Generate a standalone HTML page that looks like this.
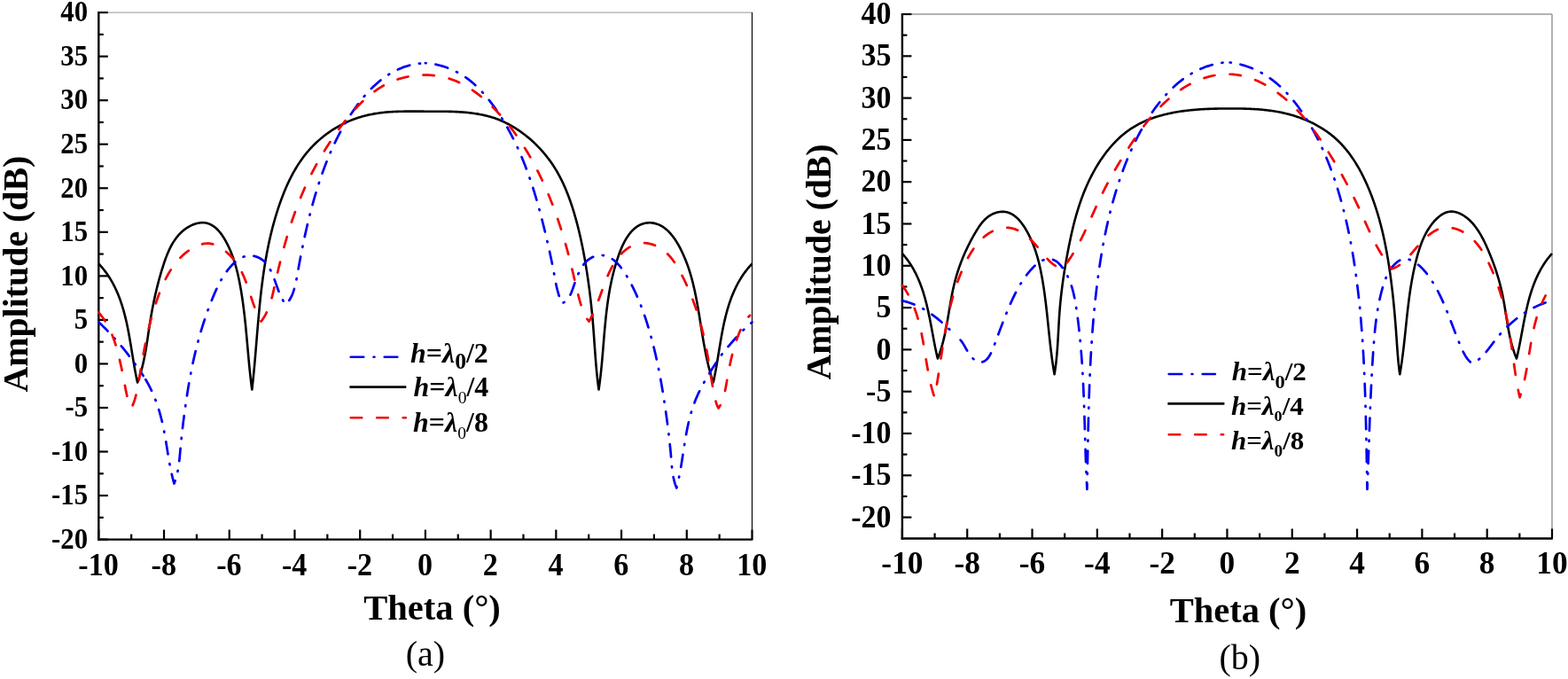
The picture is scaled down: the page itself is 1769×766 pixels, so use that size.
<!DOCTYPE html><html><head><meta charset="utf-8"><style>html,body{margin:0;padding:0;background:#fff;overflow:hidden}svg{display:block}</style></head><body>
<svg width="1769" height="766" viewBox="0 0 1769 766">
<rect width="1769" height="766" fill="#fff"/>
<line x1="111.3" y1="14.1" x2="848.5" y2="14.1" stroke="#aaa" stroke-width="1.3"/>
<line x1="848.5" y1="14.1" x2="848.5" y2="608.6" stroke="#111" stroke-width="1.3"/>
<line x1="111.3" y1="14.10" x2="121.8" y2="14.10" stroke="#000" stroke-width="2.2"/>
<text transform="translate(99.1,24.3) scale(0.940,1)" text-anchor="end" font-family="'Liberation Serif','Times New Roman',serif" font-weight="bold" font-size="32.8">40</text>
<line x1="111.3" y1="38.87" x2="116.8" y2="38.87" stroke="#000" stroke-width="2.2"/>
<line x1="111.3" y1="63.64" x2="121.8" y2="63.64" stroke="#000" stroke-width="2.2"/>
<text transform="translate(99.1,73.8) scale(0.940,1)" text-anchor="end" font-family="'Liberation Serif','Times New Roman',serif" font-weight="bold" font-size="32.8">35</text>
<line x1="111.3" y1="88.41" x2="116.8" y2="88.41" stroke="#000" stroke-width="2.2"/>
<line x1="111.3" y1="113.18" x2="121.8" y2="113.18" stroke="#000" stroke-width="2.2"/>
<text transform="translate(99.1,123.4) scale(0.940,1)" text-anchor="end" font-family="'Liberation Serif','Times New Roman',serif" font-weight="bold" font-size="32.8">30</text>
<line x1="111.3" y1="137.95" x2="116.8" y2="137.95" stroke="#000" stroke-width="2.2"/>
<line x1="111.3" y1="162.72" x2="121.8" y2="162.72" stroke="#000" stroke-width="2.2"/>
<text transform="translate(99.1,172.9) scale(0.940,1)" text-anchor="end" font-family="'Liberation Serif','Times New Roman',serif" font-weight="bold" font-size="32.8">25</text>
<line x1="111.3" y1="187.50" x2="116.8" y2="187.50" stroke="#000" stroke-width="2.2"/>
<line x1="111.3" y1="212.27" x2="121.8" y2="212.27" stroke="#000" stroke-width="2.2"/>
<text transform="translate(99.1,222.5) scale(0.940,1)" text-anchor="end" font-family="'Liberation Serif','Times New Roman',serif" font-weight="bold" font-size="32.8">20</text>
<line x1="111.3" y1="237.04" x2="116.8" y2="237.04" stroke="#000" stroke-width="2.2"/>
<line x1="111.3" y1="261.81" x2="121.8" y2="261.81" stroke="#000" stroke-width="2.2"/>
<text transform="translate(99.1,272.0) scale(0.940,1)" text-anchor="end" font-family="'Liberation Serif','Times New Roman',serif" font-weight="bold" font-size="32.8">15</text>
<line x1="111.3" y1="286.58" x2="116.8" y2="286.58" stroke="#000" stroke-width="2.2"/>
<line x1="111.3" y1="311.35" x2="121.8" y2="311.35" stroke="#000" stroke-width="2.2"/>
<text transform="translate(99.1,321.6) scale(0.940,1)" text-anchor="end" font-family="'Liberation Serif','Times New Roman',serif" font-weight="bold" font-size="32.8">10</text>
<line x1="111.3" y1="336.12" x2="116.8" y2="336.12" stroke="#000" stroke-width="2.2"/>
<line x1="111.3" y1="360.89" x2="121.8" y2="360.89" stroke="#000" stroke-width="2.2"/>
<text transform="translate(99.1,371.1) scale(0.940,1)" text-anchor="end" font-family="'Liberation Serif','Times New Roman',serif" font-weight="bold" font-size="32.8">5</text>
<line x1="111.3" y1="385.66" x2="116.8" y2="385.66" stroke="#000" stroke-width="2.2"/>
<line x1="111.3" y1="410.43" x2="121.8" y2="410.43" stroke="#000" stroke-width="2.2"/>
<text transform="translate(99.1,420.6) scale(0.940,1)" text-anchor="end" font-family="'Liberation Serif','Times New Roman',serif" font-weight="bold" font-size="32.8">0</text>
<line x1="111.3" y1="435.20" x2="116.8" y2="435.20" stroke="#000" stroke-width="2.2"/>
<line x1="111.3" y1="459.98" x2="121.8" y2="459.98" stroke="#000" stroke-width="2.2"/>
<text transform="translate(99.1,470.2) scale(0.940,1)" text-anchor="end" font-family="'Liberation Serif','Times New Roman',serif" font-weight="bold" font-size="32.8">-5</text>
<line x1="111.3" y1="484.75" x2="116.8" y2="484.75" stroke="#000" stroke-width="2.2"/>
<line x1="111.3" y1="509.52" x2="121.8" y2="509.52" stroke="#000" stroke-width="2.2"/>
<text transform="translate(99.1,519.7) scale(0.940,1)" text-anchor="end" font-family="'Liberation Serif','Times New Roman',serif" font-weight="bold" font-size="32.8">-10</text>
<line x1="111.3" y1="534.29" x2="116.8" y2="534.29" stroke="#000" stroke-width="2.2"/>
<line x1="111.3" y1="559.06" x2="121.8" y2="559.06" stroke="#000" stroke-width="2.2"/>
<text transform="translate(99.1,569.3) scale(0.940,1)" text-anchor="end" font-family="'Liberation Serif','Times New Roman',serif" font-weight="bold" font-size="32.8">-15</text>
<line x1="111.3" y1="583.83" x2="116.8" y2="583.83" stroke="#000" stroke-width="2.2"/>
<line x1="111.3" y1="608.60" x2="121.8" y2="608.60" stroke="#000" stroke-width="2.2"/>
<text transform="translate(99.1,618.8) scale(0.940,1)" text-anchor="end" font-family="'Liberation Serif','Times New Roman',serif" font-weight="bold" font-size="32.8">-20</text>
<line x1="111.30" y1="608.6" x2="111.30" y2="597.6" stroke="#000" stroke-width="2.2"/>
<text transform="translate(111.00,648.9) scale(0.960,1)" text-anchor="middle" font-family="'Liberation Serif','Times New Roman',serif" font-weight="bold" font-size="35.5">-10</text>
<line x1="148.16" y1="608.6" x2="148.16" y2="602.6" stroke="#000" stroke-width="2.2"/>
<line x1="185.02" y1="608.6" x2="185.02" y2="597.6" stroke="#000" stroke-width="2.2"/>
<text transform="translate(184.72,648.9) scale(0.960,1)" text-anchor="middle" font-family="'Liberation Serif','Times New Roman',serif" font-weight="bold" font-size="35.5">-8</text>
<line x1="221.88" y1="608.6" x2="221.88" y2="602.6" stroke="#000" stroke-width="2.2"/>
<line x1="258.74" y1="608.6" x2="258.74" y2="597.6" stroke="#000" stroke-width="2.2"/>
<text transform="translate(258.44,648.9) scale(0.960,1)" text-anchor="middle" font-family="'Liberation Serif','Times New Roman',serif" font-weight="bold" font-size="35.5">-6</text>
<line x1="295.60" y1="608.6" x2="295.60" y2="602.6" stroke="#000" stroke-width="2.2"/>
<line x1="332.46" y1="608.6" x2="332.46" y2="597.6" stroke="#000" stroke-width="2.2"/>
<text transform="translate(332.16,648.9) scale(0.960,1)" text-anchor="middle" font-family="'Liberation Serif','Times New Roman',serif" font-weight="bold" font-size="35.5">-4</text>
<line x1="369.32" y1="608.6" x2="369.32" y2="602.6" stroke="#000" stroke-width="2.2"/>
<line x1="406.18" y1="608.6" x2="406.18" y2="597.6" stroke="#000" stroke-width="2.2"/>
<text transform="translate(405.88,648.9) scale(0.960,1)" text-anchor="middle" font-family="'Liberation Serif','Times New Roman',serif" font-weight="bold" font-size="35.5">-2</text>
<line x1="443.04" y1="608.6" x2="443.04" y2="602.6" stroke="#000" stroke-width="2.2"/>
<line x1="479.90" y1="608.6" x2="479.90" y2="597.6" stroke="#000" stroke-width="2.2"/>
<text transform="translate(479.60,648.9) scale(0.960,1)" text-anchor="middle" font-family="'Liberation Serif','Times New Roman',serif" font-weight="bold" font-size="35.5">0</text>
<line x1="516.76" y1="608.6" x2="516.76" y2="602.6" stroke="#000" stroke-width="2.2"/>
<line x1="553.62" y1="608.6" x2="553.62" y2="597.6" stroke="#000" stroke-width="2.2"/>
<text transform="translate(553.32,648.9) scale(0.960,1)" text-anchor="middle" font-family="'Liberation Serif','Times New Roman',serif" font-weight="bold" font-size="35.5">2</text>
<line x1="590.48" y1="608.6" x2="590.48" y2="602.6" stroke="#000" stroke-width="2.2"/>
<line x1="627.34" y1="608.6" x2="627.34" y2="597.6" stroke="#000" stroke-width="2.2"/>
<text transform="translate(627.04,648.9) scale(0.960,1)" text-anchor="middle" font-family="'Liberation Serif','Times New Roman',serif" font-weight="bold" font-size="35.5">4</text>
<line x1="664.20" y1="608.6" x2="664.20" y2="602.6" stroke="#000" stroke-width="2.2"/>
<line x1="701.06" y1="608.6" x2="701.06" y2="597.6" stroke="#000" stroke-width="2.2"/>
<text transform="translate(700.76,648.9) scale(0.960,1)" text-anchor="middle" font-family="'Liberation Serif','Times New Roman',serif" font-weight="bold" font-size="35.5">6</text>
<line x1="737.92" y1="608.6" x2="737.92" y2="602.6" stroke="#000" stroke-width="2.2"/>
<line x1="774.78" y1="608.6" x2="774.78" y2="597.6" stroke="#000" stroke-width="2.2"/>
<text transform="translate(774.48,648.9) scale(0.960,1)" text-anchor="middle" font-family="'Liberation Serif','Times New Roman',serif" font-weight="bold" font-size="35.5">8</text>
<line x1="811.64" y1="608.6" x2="811.64" y2="602.6" stroke="#000" stroke-width="2.2"/>
<line x1="848.50" y1="608.6" x2="848.50" y2="597.6" stroke="#000" stroke-width="2.2"/>
<text transform="translate(848.20,648.9) scale(0.960,1)" text-anchor="middle" font-family="'Liberation Serif','Times New Roman',serif" font-weight="bold" font-size="35.5">10</text>
<line x1="111.3" y1="13.1" x2="111.3" y2="609.8" stroke="#000" stroke-width="2.4"/>
<line x1="110.1" y1="608.6" x2="849.3" y2="608.6" stroke="#000" stroke-width="2.4"/>
<line x1="1017.9" y1="16.0" x2="1751.0" y2="16.0" stroke="#999" stroke-width="1.3"/>
<line x1="1751.0" y1="16.0" x2="1751.0" y2="607.5" stroke="#999" stroke-width="1.5"/>
<line x1="1017.9" y1="16.00" x2="1028.4" y2="16.00" stroke="#000" stroke-width="2.2"/>
<text transform="translate(1005.4,27.1) scale(0.970,1)" text-anchor="end" font-family="'Liberation Serif','Times New Roman',serif" font-weight="bold" font-size="35.0">40</text>
<line x1="1017.9" y1="39.65" x2="1023.4" y2="39.65" stroke="#000" stroke-width="2.2"/>
<line x1="1017.9" y1="63.30" x2="1028.4" y2="63.30" stroke="#000" stroke-width="2.2"/>
<text transform="translate(1005.4,74.4) scale(0.970,1)" text-anchor="end" font-family="'Liberation Serif','Times New Roman',serif" font-weight="bold" font-size="35.0">35</text>
<line x1="1017.9" y1="86.95" x2="1023.4" y2="86.95" stroke="#000" stroke-width="2.2"/>
<line x1="1017.9" y1="110.60" x2="1028.4" y2="110.60" stroke="#000" stroke-width="2.2"/>
<text transform="translate(1005.4,121.7) scale(0.970,1)" text-anchor="end" font-family="'Liberation Serif','Times New Roman',serif" font-weight="bold" font-size="35.0">30</text>
<line x1="1017.9" y1="134.25" x2="1023.4" y2="134.25" stroke="#000" stroke-width="2.2"/>
<line x1="1017.9" y1="157.90" x2="1028.4" y2="157.90" stroke="#000" stroke-width="2.2"/>
<text transform="translate(1005.4,169.0) scale(0.970,1)" text-anchor="end" font-family="'Liberation Serif','Times New Roman',serif" font-weight="bold" font-size="35.0">25</text>
<line x1="1017.9" y1="181.55" x2="1023.4" y2="181.55" stroke="#000" stroke-width="2.2"/>
<line x1="1017.9" y1="205.20" x2="1028.4" y2="205.20" stroke="#000" stroke-width="2.2"/>
<text transform="translate(1005.4,216.3) scale(0.970,1)" text-anchor="end" font-family="'Liberation Serif','Times New Roman',serif" font-weight="bold" font-size="35.0">20</text>
<line x1="1017.9" y1="228.85" x2="1023.4" y2="228.85" stroke="#000" stroke-width="2.2"/>
<line x1="1017.9" y1="252.50" x2="1028.4" y2="252.50" stroke="#000" stroke-width="2.2"/>
<text transform="translate(1005.4,263.6) scale(0.970,1)" text-anchor="end" font-family="'Liberation Serif','Times New Roman',serif" font-weight="bold" font-size="35.0">15</text>
<line x1="1017.9" y1="276.15" x2="1023.4" y2="276.15" stroke="#000" stroke-width="2.2"/>
<line x1="1017.9" y1="299.80" x2="1028.4" y2="299.80" stroke="#000" stroke-width="2.2"/>
<text transform="translate(1005.4,310.9) scale(0.970,1)" text-anchor="end" font-family="'Liberation Serif','Times New Roman',serif" font-weight="bold" font-size="35.0">10</text>
<line x1="1017.9" y1="323.45" x2="1023.4" y2="323.45" stroke="#000" stroke-width="2.2"/>
<line x1="1017.9" y1="347.10" x2="1028.4" y2="347.10" stroke="#000" stroke-width="2.2"/>
<text transform="translate(1005.4,358.2) scale(0.970,1)" text-anchor="end" font-family="'Liberation Serif','Times New Roman',serif" font-weight="bold" font-size="35.0">5</text>
<line x1="1017.9" y1="370.75" x2="1023.4" y2="370.75" stroke="#000" stroke-width="2.2"/>
<line x1="1017.9" y1="394.40" x2="1028.4" y2="394.40" stroke="#000" stroke-width="2.2"/>
<text transform="translate(1005.4,405.5) scale(0.970,1)" text-anchor="end" font-family="'Liberation Serif','Times New Roman',serif" font-weight="bold" font-size="35.0">0</text>
<line x1="1017.9" y1="418.05" x2="1023.4" y2="418.05" stroke="#000" stroke-width="2.2"/>
<line x1="1017.9" y1="441.70" x2="1028.4" y2="441.70" stroke="#000" stroke-width="2.2"/>
<text transform="translate(1005.4,452.8) scale(0.970,1)" text-anchor="end" font-family="'Liberation Serif','Times New Roman',serif" font-weight="bold" font-size="35.0">-5</text>
<line x1="1017.9" y1="465.35" x2="1023.4" y2="465.35" stroke="#000" stroke-width="2.2"/>
<line x1="1017.9" y1="489.00" x2="1028.4" y2="489.00" stroke="#000" stroke-width="2.2"/>
<text transform="translate(1005.4,500.1) scale(0.970,1)" text-anchor="end" font-family="'Liberation Serif','Times New Roman',serif" font-weight="bold" font-size="35.0">-10</text>
<line x1="1017.9" y1="512.65" x2="1023.4" y2="512.65" stroke="#000" stroke-width="2.2"/>
<line x1="1017.9" y1="536.30" x2="1028.4" y2="536.30" stroke="#000" stroke-width="2.2"/>
<text transform="translate(1005.4,547.4) scale(0.970,1)" text-anchor="end" font-family="'Liberation Serif','Times New Roman',serif" font-weight="bold" font-size="35.0">-15</text>
<line x1="1017.9" y1="559.95" x2="1023.4" y2="559.95" stroke="#000" stroke-width="2.2"/>
<line x1="1017.9" y1="583.60" x2="1028.4" y2="583.60" stroke="#000" stroke-width="2.2"/>
<text transform="translate(1005.4,594.7) scale(0.970,1)" text-anchor="end" font-family="'Liberation Serif','Times New Roman',serif" font-weight="bold" font-size="35.0">-20</text>
<line x1="1017.90" y1="607.5" x2="1017.90" y2="596.5" stroke="#000" stroke-width="2.2"/>
<text transform="translate(1017.90,647.4) scale(0.960,1)" text-anchor="middle" font-family="'Liberation Serif','Times New Roman',serif" font-weight="bold" font-size="36.8">-10</text>
<line x1="1054.56" y1="607.5" x2="1054.56" y2="601.5" stroke="#000" stroke-width="2.2"/>
<line x1="1091.21" y1="607.5" x2="1091.21" y2="596.5" stroke="#000" stroke-width="2.2"/>
<text transform="translate(1091.21,647.4) scale(0.960,1)" text-anchor="middle" font-family="'Liberation Serif','Times New Roman',serif" font-weight="bold" font-size="36.8">-8</text>
<line x1="1127.87" y1="607.5" x2="1127.87" y2="601.5" stroke="#000" stroke-width="2.2"/>
<line x1="1164.52" y1="607.5" x2="1164.52" y2="596.5" stroke="#000" stroke-width="2.2"/>
<text transform="translate(1164.52,647.4) scale(0.960,1)" text-anchor="middle" font-family="'Liberation Serif','Times New Roman',serif" font-weight="bold" font-size="36.8">-6</text>
<line x1="1201.17" y1="607.5" x2="1201.17" y2="601.5" stroke="#000" stroke-width="2.2"/>
<line x1="1237.83" y1="607.5" x2="1237.83" y2="596.5" stroke="#000" stroke-width="2.2"/>
<text transform="translate(1237.83,647.4) scale(0.960,1)" text-anchor="middle" font-family="'Liberation Serif','Times New Roman',serif" font-weight="bold" font-size="36.8">-4</text>
<line x1="1274.48" y1="607.5" x2="1274.48" y2="601.5" stroke="#000" stroke-width="2.2"/>
<line x1="1311.14" y1="607.5" x2="1311.14" y2="596.5" stroke="#000" stroke-width="2.2"/>
<text transform="translate(1311.14,647.4) scale(0.960,1)" text-anchor="middle" font-family="'Liberation Serif','Times New Roman',serif" font-weight="bold" font-size="36.8">-2</text>
<line x1="1347.80" y1="607.5" x2="1347.80" y2="601.5" stroke="#000" stroke-width="2.2"/>
<line x1="1384.45" y1="607.5" x2="1384.45" y2="596.5" stroke="#000" stroke-width="2.2"/>
<text transform="translate(1384.45,647.4) scale(0.960,1)" text-anchor="middle" font-family="'Liberation Serif','Times New Roman',serif" font-weight="bold" font-size="36.8">0</text>
<line x1="1421.11" y1="607.5" x2="1421.11" y2="601.5" stroke="#000" stroke-width="2.2"/>
<line x1="1457.76" y1="607.5" x2="1457.76" y2="596.5" stroke="#000" stroke-width="2.2"/>
<text transform="translate(1457.76,647.4) scale(0.960,1)" text-anchor="middle" font-family="'Liberation Serif','Times New Roman',serif" font-weight="bold" font-size="36.8">2</text>
<line x1="1494.41" y1="607.5" x2="1494.41" y2="601.5" stroke="#000" stroke-width="2.2"/>
<line x1="1531.07" y1="607.5" x2="1531.07" y2="596.5" stroke="#000" stroke-width="2.2"/>
<text transform="translate(1531.07,647.4) scale(0.960,1)" text-anchor="middle" font-family="'Liberation Serif','Times New Roman',serif" font-weight="bold" font-size="36.8">4</text>
<line x1="1567.72" y1="607.5" x2="1567.72" y2="601.5" stroke="#000" stroke-width="2.2"/>
<line x1="1604.38" y1="607.5" x2="1604.38" y2="596.5" stroke="#000" stroke-width="2.2"/>
<text transform="translate(1604.38,647.4) scale(0.960,1)" text-anchor="middle" font-family="'Liberation Serif','Times New Roman',serif" font-weight="bold" font-size="36.8">6</text>
<line x1="1641.03" y1="607.5" x2="1641.03" y2="601.5" stroke="#000" stroke-width="2.2"/>
<line x1="1677.69" y1="607.5" x2="1677.69" y2="596.5" stroke="#000" stroke-width="2.2"/>
<text transform="translate(1677.69,647.4) scale(0.960,1)" text-anchor="middle" font-family="'Liberation Serif','Times New Roman',serif" font-weight="bold" font-size="36.8">8</text>
<line x1="1714.34" y1="607.5" x2="1714.34" y2="601.5" stroke="#000" stroke-width="2.2"/>
<line x1="1751.00" y1="607.5" x2="1751.00" y2="596.5" stroke="#000" stroke-width="2.2"/>
<text transform="translate(1751.00,647.4) scale(0.960,1)" text-anchor="middle" font-family="'Liberation Serif','Times New Roman',serif" font-weight="bold" font-size="36.8">10</text>
<line x1="1017.9" y1="15.0" x2="1017.9" y2="608.7" stroke="#000" stroke-width="2.4"/>
<line x1="1016.7" y1="607.5" x2="1751.8" y2="607.5" stroke="#000" stroke-width="2.4"/>
<text transform="translate(31.3,442.6) rotate(-90)" font-family="'Liberation Serif','Times New Roman',serif" font-weight="bold" font-size="40.5" textLength="267" lengthAdjust="spacingAndGlyphs">Amplitude (dB)</text>
<text transform="translate(937,428.4) rotate(-90)" font-family="'Liberation Serif','Times New Roman',serif" font-weight="bold" font-size="40.5" textLength="266" lengthAdjust="spacingAndGlyphs">Amplitude (dB)</text>
<text x="410.3" y="699.2" font-family="'Liberation Serif','Times New Roman',serif" font-weight="bold" font-size="40.5">Theta (°)</text>
<text x="1319.7" y="701.5" font-family="'Liberation Serif','Times New Roman',serif" font-weight="bold" font-size="40.5">Theta (°)</text>
<text x="480" y="750.5" text-anchor="middle" font-family="'Liberation Serif','Times New Roman',serif" font-size="40">(a)</text>
<text x="1398.8" y="755" text-anchor="middle" font-family="'Liberation Serif','Times New Roman',serif" font-size="40">(b)</text>
<path d="M111.30,297.50 L112.36,298.63 L113.40,299.77 L114.42,300.93 L115.41,302.09 L116.38,303.27 L117.34,304.45 L118.27,305.65 L119.18,306.86 L120.07,308.08 L120.94,309.30 L121.79,310.54 L122.62,311.79 L123.43,313.04 L124.22,314.31 L125.00,315.58 L125.75,316.87 L126.49,318.16 L127.21,319.46 L127.92,320.77 L128.61,322.09 L129.28,323.41 L129.93,324.75 L130.57,326.09 L131.19,327.44 L131.80,328.79 L132.39,330.15 L132.97,331.52 L133.54,332.90 L134.09,334.28 L134.62,335.67 L135.14,337.07 L135.65,338.47 L136.15,339.88 L136.63,341.30 L137.11,342.72 L137.57,344.14 L138.02,345.57 L138.45,347.01 L138.88,348.45 L139.30,349.89 L139.70,351.34 L140.10,352.80 L140.48,354.25 L140.86,355.72 L141.23,357.18 L141.59,358.65 L141.94,360.13 L142.28,361.60 L142.62,363.08 L142.95,364.56 L143.27,366.05 L143.58,367.54 L143.89,369.03 L144.19,370.52 L144.48,372.02 L144.77,373.51 L145.06,375.01 L145.34,376.51 L145.61,378.01 L145.88,379.51 L146.15,381.02 L146.41,382.52 L146.67,384.03 L146.93,385.53 L147.18,387.04 L147.44,388.55 L147.69,390.05 L147.93,391.56 L148.18,393.06 L148.43,394.57 L148.67,396.07 L148.91,397.58 L149.16,399.08 L149.40,400.58 L149.64,402.08 L149.89,403.58 L150.14,405.07 L150.38,406.57 L150.63,408.06 L150.88,409.55 L151.14,411.04 L151.39,412.52 L151.65,414.00 L151.91,415.48 L152.18,416.96 L152.45,418.43 L152.72,419.90 L153.00,421.36 L153.28,422.82 L153.57,424.28 L153.86,425.73 L154.16,427.18 L154.47,428.63 L154.78,430.07 L155.10,431.50 L155.63,430.04 L156.15,428.58 L156.65,427.13 L157.14,425.67 L157.61,424.21 L158.06,422.75 L158.50,421.29 L158.93,419.83 L159.34,418.37 L159.74,416.91 L160.12,415.45 L160.50,413.99 L160.86,412.53 L161.21,411.07 L161.55,409.60 L161.87,408.14 L162.19,406.68 L162.50,405.22 L162.80,403.76 L163.09,402.29 L163.38,400.83 L163.65,399.37 L163.92,397.91 L164.18,396.44 L164.44,394.98 L164.69,393.51 L164.93,392.05 L165.17,390.59 L165.40,389.12 L165.63,387.66 L165.86,386.19 L166.09,384.73 L166.31,383.26 L166.53,381.80 L166.74,380.33 L166.96,378.87 L167.18,377.40 L167.39,375.93 L167.61,374.47 L167.83,373.00 L168.05,371.54 L168.26,370.07 L168.49,368.60 L168.71,367.14 L168.94,365.67 L169.17,364.20 L169.40,362.73 L169.64,361.27 L169.89,359.80 L170.13,358.33 L170.38,356.86 L170.64,355.40 L170.90,353.93 L171.16,352.46 L171.43,350.99 L171.70,349.53 L171.98,348.06 L172.26,346.59 L172.55,345.12 L172.84,343.65 L173.14,342.18 L173.44,340.72 L173.74,339.25 L174.06,337.78 L174.37,336.31 L174.69,334.84 L175.02,333.37 L175.35,331.90 L175.69,330.43 L176.03,328.97 L176.38,327.50 L176.74,326.03 L177.10,324.56 L177.46,323.09 L177.83,321.62 L178.21,320.15 L178.60,318.68 L178.98,317.21 L179.38,315.74 L179.78,314.27 L180.19,312.81 L180.60,311.34 L181.03,309.87 L181.45,308.40 L181.89,306.93 L182.33,305.46 L182.77,303.99 L183.23,302.52 L183.69,301.05 L184.16,299.58 L184.63,298.12 L185.12,296.65 L185.61,295.19 L186.12,293.74 L186.64,292.29 L187.17,290.84 L187.71,289.41 L188.27,287.98 L188.84,286.56 L189.43,285.15 L190.04,283.75 L190.67,282.37 L191.31,281.00 L191.97,279.65 L192.66,278.31 L193.36,276.98 L194.09,275.68 L194.84,274.39 L195.62,273.12 L196.42,271.87 L197.25,270.65 L198.10,269.45 L198.98,268.27 L199.90,267.11 L200.84,265.98 L201.81,264.88 L202.81,263.81 L203.84,262.76 L204.91,261.75 L206.01,260.76 L207.15,259.81 L208.32,258.89 L209.53,258.00 L210.78,257.14 L212.06,256.33 L213.38,255.55 L214.74,254.83 L216.13,254.15 L217.54,253.53 L218.99,252.97 L220.46,252.48 L221.95,252.06 L223.46,251.71 L224.96,251.44 L226.46,251.26 L227.94,251.17 L229.40,251.18 L230.83,251.28 L232.22,251.49 L233.57,251.78 L234.90,252.17 L236.19,252.64 L237.44,253.19 L238.67,253.82 L239.87,254.53 L241.03,255.30 L242.16,256.15 L243.27,257.05 L244.34,258.02 L245.39,259.04 L246.40,260.12 L247.39,261.24 L248.36,262.40 L249.29,263.61 L250.20,264.85 L251.08,266.13 L251.94,267.43 L252.78,268.77 L253.58,270.12 L254.37,271.49 L255.13,272.87 L255.87,274.27 L256.59,275.67 L257.29,277.07 L257.96,278.48 L258.61,279.89 L259.25,281.30 L259.86,282.71 L260.46,284.13 L261.03,285.55 L261.59,286.97 L262.13,288.40 L262.65,289.82 L263.16,291.25 L263.65,292.68 L264.13,294.12 L264.59,295.55 L265.03,296.99 L265.46,298.43 L265.88,299.87 L266.29,301.32 L266.68,302.76 L267.06,304.21 L267.43,305.66 L267.79,307.11 L268.13,308.57 L268.47,310.02 L268.80,311.48 L269.12,312.94 L269.43,314.40 L269.73,315.86 L270.03,317.32 L270.31,318.78 L270.60,320.25 L270.87,321.72 L271.14,323.19 L271.40,324.65 L271.66,326.13 L271.92,327.60 L272.16,329.07 L272.40,330.55 L272.64,332.02 L272.87,333.50 L273.10,334.98 L273.32,336.46 L273.54,337.94 L273.75,339.42 L273.96,340.90 L274.16,342.38 L274.36,343.87 L274.56,345.35 L274.75,346.84 L274.94,348.32 L275.12,349.81 L275.30,351.30 L275.48,352.79 L275.66,354.28 L275.83,355.77 L276.00,357.26 L276.16,358.75 L276.32,360.25 L276.48,361.74 L276.64,363.23 L276.79,364.73 L276.95,366.22 L277.10,367.72 L277.25,369.21 L277.39,370.71 L277.54,372.21 L277.68,373.70 L277.82,375.20 L277.96,376.70 L278.10,378.19 L278.24,379.69 L278.38,381.19 L278.51,382.69 L278.65,384.19 L278.78,385.69 L278.92,387.19 L279.05,388.69 L279.19,390.18 L279.32,391.68 L279.45,393.18 L279.59,394.68 L279.72,396.18 L279.86,397.68 L279.99,399.18 L280.13,400.68 L280.26,402.18 L280.40,403.67 L280.54,405.17 L280.68,406.67 L280.82,408.17 L280.96,409.66 L281.10,411.16 L281.25,412.66 L281.40,414.15 L281.55,415.65 L281.70,417.15 L281.85,418.64 L282.01,420.13 L282.17,421.63 L282.33,423.12 L282.49,424.61 L282.66,426.11 L282.83,427.60 L283.00,429.09 L283.17,430.58 L283.35,432.07 L283.53,433.55 L283.72,435.04 L283.91,436.53 L284.10,438.01 L284.30,439.50 L284.47,438.01 L284.64,436.51 L284.81,435.02 L284.97,433.52 L285.14,432.03 L285.29,430.53 L285.45,429.04 L285.61,427.55 L285.76,426.05 L285.91,424.56 L286.06,423.06 L286.21,421.57 L286.35,420.07 L286.50,418.58 L286.64,417.08 L286.78,415.59 L286.92,414.09 L287.05,412.60 L287.19,411.10 L287.32,409.61 L287.45,408.11 L287.59,406.62 L287.72,405.13 L287.85,403.63 L287.98,402.14 L288.10,400.64 L288.23,399.15 L288.36,397.65 L288.48,396.16 L288.61,394.66 L288.73,393.17 L288.86,391.67 L288.98,390.18 L289.10,388.68 L289.23,387.19 L289.35,385.69 L289.47,384.20 L289.59,382.70 L289.72,381.21 L289.84,379.71 L289.96,378.22 L290.09,376.72 L290.21,375.23 L290.33,373.73 L290.46,372.24 L290.59,370.74 L290.71,369.25 L290.84,367.75 L290.97,366.26 L291.09,364.77 L291.22,363.27 L291.35,361.78 L291.49,360.28 L291.62,358.79 L291.75,357.29 L291.89,355.80 L292.02,354.31 L292.16,352.81 L292.30,351.32 L292.44,349.82 L292.59,348.33 L292.73,346.84 L292.88,345.34 L293.03,343.85 L293.18,342.35 L293.33,340.86 L293.49,339.37 L293.64,337.87 L293.80,336.38 L293.96,334.89 L294.13,333.39 L294.29,331.90 L294.46,330.41 L294.63,328.92 L294.81,327.42 L294.99,325.93 L295.17,324.44 L295.35,322.95 L295.53,321.46 L295.72,319.97 L295.92,318.47 L296.11,316.98 L296.31,315.49 L296.51,314.00 L296.71,312.52 L296.92,311.03 L297.13,309.54 L297.35,308.05 L297.57,306.56 L297.79,305.08 L298.01,303.59 L298.24,302.11 L298.48,300.62 L298.71,299.14 L298.95,297.66 L299.20,296.17 L299.45,294.69 L299.70,293.21 L299.96,291.73 L300.22,290.25 L300.49,288.78 L300.76,287.30 L301.03,285.82 L301.31,284.35 L301.59,282.87 L301.88,281.40 L302.17,279.93 L302.47,278.46 L302.77,276.99 L303.08,275.52 L303.39,274.05 L303.71,272.58 L304.03,271.12 L304.36,269.65 L304.69,268.19 L305.03,266.73 L305.37,265.27 L305.72,263.81 L306.07,262.35 L306.43,260.90 L306.79,259.44 L307.16,257.99 L307.54,256.54 L307.92,255.09 L308.31,253.64 L308.70,252.19 L309.10,250.75 L309.51,249.30 L309.92,247.86 L310.33,246.42 L310.76,244.98 L311.19,243.54 L311.62,242.11 L312.06,240.67 L312.51,239.24 L312.97,237.81 L313.43,236.38 L313.90,234.96 L314.37,233.53 L314.85,232.11 L315.34,230.69 L315.83,229.27 L316.34,227.85 L316.84,226.44 L317.36,225.03 L317.88,223.62 L318.41,222.21 L318.95,220.80 L319.50,219.40 L320.05,218.00 L320.62,216.61 L321.19,215.22 L321.77,213.83 L322.35,212.45 L322.95,211.07 L323.56,209.69 L324.17,208.32 L324.80,206.96 L325.43,205.60 L326.08,204.24 L326.73,202.89 L327.40,201.55 L328.07,200.21 L328.76,198.88 L329.46,197.55 L330.16,196.23 L330.88,194.91 L331.61,193.61 L332.35,192.30 L333.11,191.01 L333.87,189.72 L334.65,188.44 L335.44,187.17 L336.24,185.91 L337.05,184.65 L337.88,183.40 L338.72,182.16 L339.57,180.93 L340.44,179.71 L341.31,178.49 L342.21,177.29 L343.11,176.09 L344.03,174.91 L344.97,173.73 L345.91,172.56 L346.88,171.40 L347.85,170.26 L348.85,169.12 L349.85,167.99 L350.88,166.88 L351.91,165.78 L352.96,164.68 L354.03,163.60 L355.11,162.53 L356.21,161.47 L357.31,160.43 L358.43,159.39 L359.57,158.37 L360.71,157.37 L361.87,156.38 L363.04,155.40 L364.22,154.43 L365.41,153.48 L366.62,152.54 L367.83,151.62 L369.05,150.72 L370.29,149.83 L371.53,148.95 L372.78,148.09 L374.04,147.25 L375.31,146.42 L376.58,145.61 L377.87,144.82 L379.16,144.05 L380.46,143.29 L381.76,142.55 L383.07,141.82 L384.39,141.12 L385.71,140.43 L387.04,139.76 L388.38,139.10 L389.72,138.47 L391.07,137.85 L392.42,137.24 L393.78,136.66 L395.14,136.09 L396.51,135.54 L397.88,135.01 L399.26,134.49 L400.64,133.99 L402.03,133.50 L403.42,133.04 L404.82,132.58 L406.22,132.15 L407.63,131.73 L409.04,131.32 L410.46,130.94 L411.88,130.57 L413.30,130.21 L414.73,129.87 L416.16,129.54 L417.60,129.23 L419.04,128.94 L420.48,128.66 L421.93,128.40 L423.39,128.15 L424.84,127.91 L426.30,127.69 L427.76,127.49 L429.23,127.30 L430.70,127.12 L432.17,126.95 L433.65,126.80 L435.13,126.66 L436.61,126.53 L438.10,126.41 L439.58,126.30 L441.07,126.20 L442.57,126.11 L444.06,126.03 L445.56,125.96 L447.06,125.90 L448.57,125.84 L450.07,125.79 L451.58,125.75 L453.09,125.72 L454.60,125.69 L456.11,125.67 L457.63,125.65 L459.15,125.63 L460.66,125.63 L462.19,125.62 L463.71,125.62 L465.23,125.62 L466.76,125.62 L468.28,125.63 L469.81,125.63 L471.34,125.64 L472.87,125.65 L474.40,125.66 L475.93,125.67 L477.46,125.67 L478.99,125.68 L480.53,125.68 L482.06,125.69 L483.60,125.69 L485.13,125.69 L486.67,125.69 L488.20,125.69 L489.74,125.69 L491.27,125.69 L492.80,125.69 L494.34,125.70 L495.87,125.70 L497.40,125.71 L498.93,125.72 L500.47,125.74 L501.99,125.76 L503.52,125.78 L505.05,125.81 L506.57,125.84 L508.10,125.88 L509.62,125.92 L511.14,125.97 L512.66,126.03 L514.17,126.09 L515.69,126.16 L517.20,126.24 L518.71,126.33 L520.21,126.42 L521.72,126.53 L523.22,126.64 L524.72,126.77 L526.21,126.90 L527.70,127.05 L529.19,127.20 L530.67,127.37 L532.15,127.55 L533.63,127.74 L535.10,127.95 L536.57,128.17 L538.04,128.40 L539.50,128.65 L540.95,128.91 L542.41,129.18 L543.85,129.48 L545.29,129.78 L546.73,130.11 L548.16,130.45 L549.59,130.80 L551.01,131.18 L552.43,131.57 L553.84,131.98 L555.24,132.41 L556.64,132.86 L558.04,133.32 L559.42,133.81 L560.81,134.32 L562.18,134.84 L563.55,135.39 L564.91,135.96 L566.27,136.54 L567.61,137.15 L568.96,137.77 L570.29,138.41 L571.62,139.07 L572.94,139.75 L574.25,140.44 L575.55,141.15 L576.85,141.88 L578.14,142.62 L579.42,143.38 L580.70,144.16 L581.96,144.95 L583.22,145.76 L584.47,146.58 L585.71,147.42 L586.94,148.27 L588.16,149.14 L589.37,150.02 L590.58,150.92 L591.77,151.82 L592.96,152.74 L594.13,153.68 L595.30,154.63 L596.46,155.59 L597.60,156.56 L598.74,157.55 L599.87,158.55 L600.98,159.56 L602.09,160.58 L603.19,161.61 L604.27,162.66 L605.35,163.72 L606.41,164.79 L607.46,165.87 L608.50,166.96 L609.53,168.06 L610.55,169.18 L611.55,170.30 L612.55,171.43 L613.53,172.58 L614.50,173.73 L615.46,174.90 L616.41,176.07 L617.34,177.26 L618.26,178.45 L619.17,179.65 L620.07,180.86 L620.95,182.08 L621.82,183.31 L622.68,184.55 L623.52,185.80 L624.35,187.05 L625.17,188.32 L625.97,189.59 L626.76,190.86 L627.53,192.15 L628.30,193.44 L629.05,194.74 L629.78,196.05 L630.51,197.37 L631.22,198.69 L631.92,200.02 L632.60,201.35 L633.28,202.69 L633.94,204.04 L634.60,205.39 L635.24,206.75 L635.87,208.11 L636.49,209.48 L637.10,210.86 L637.70,212.24 L638.29,213.62 L638.87,215.01 L639.44,216.41 L640.00,217.81 L640.55,219.21 L641.09,220.62 L641.62,222.03 L642.15,223.44 L642.66,224.86 L643.17,226.28 L643.67,227.71 L644.16,229.13 L644.65,230.57 L645.12,232.00 L645.59,233.44 L646.05,234.87 L646.50,236.32 L646.95,237.76 L647.39,239.20 L647.82,240.65 L648.25,242.10 L648.67,243.55 L649.08,245.00 L649.49,246.45 L649.89,247.91 L650.29,249.36 L650.68,250.82 L651.06,252.27 L651.44,253.73 L651.82,255.19 L652.19,256.65 L652.55,258.10 L652.91,259.56 L653.27,261.02 L653.61,262.49 L653.96,263.95 L654.30,265.41 L654.63,266.87 L654.96,268.34 L655.29,269.80 L655.61,271.27 L655.92,272.74 L656.23,274.20 L656.54,275.67 L656.84,277.14 L657.14,278.61 L657.44,280.08 L657.73,281.55 L658.01,283.02 L658.29,284.49 L658.57,285.97 L658.85,287.44 L659.12,288.91 L659.38,290.39 L659.65,291.86 L659.91,293.34 L660.16,294.81 L660.42,296.29 L660.67,297.77 L660.91,299.25 L661.15,300.72 L661.39,302.20 L661.63,303.68 L661.86,305.16 L662.09,306.64 L662.32,308.12 L662.55,309.60 L662.77,311.09 L662.99,312.57 L663.20,314.05 L663.42,315.54 L663.63,317.02 L663.84,318.50 L664.04,319.99 L664.24,321.47 L664.44,322.96 L664.64,324.45 L664.84,325.93 L665.03,327.42 L665.22,328.91 L665.40,330.39 L665.59,331.88 L665.77,333.37 L665.95,334.86 L666.12,336.35 L666.30,337.84 L666.47,339.33 L666.63,340.82 L666.80,342.31 L666.96,343.80 L667.12,345.29 L667.28,346.78 L667.43,348.27 L667.58,349.77 L667.73,351.26 L667.88,352.75 L668.02,354.24 L668.16,355.74 L668.30,357.23 L668.43,358.72 L668.57,360.22 L668.70,361.71 L668.82,363.21 L668.95,364.70 L669.07,366.19 L669.19,367.69 L669.31,369.18 L669.42,370.68 L669.54,372.17 L669.65,373.67 L669.76,375.17 L669.87,376.66 L669.98,378.16 L670.09,379.65 L670.20,381.15 L670.30,382.65 L670.41,384.14 L670.52,385.64 L670.62,387.13 L670.73,388.63 L670.83,390.13 L670.94,391.62 L671.05,393.12 L671.15,394.62 L671.26,396.12 L671.37,397.61 L671.48,399.11 L671.59,400.61 L671.71,402.10 L671.82,403.60 L671.94,405.10 L672.06,406.59 L672.18,408.09 L672.30,409.59 L672.43,411.08 L672.56,412.58 L672.69,414.08 L672.82,415.57 L672.96,417.07 L673.10,418.57 L673.24,420.06 L673.39,421.56 L673.54,423.05 L673.70,424.55 L673.86,426.05 L674.02,427.54 L674.19,429.04 L674.36,430.53 L674.54,432.03 L674.72,433.52 L674.91,435.02 L675.10,436.51 L675.30,438.01 L675.50,439.50 L675.72,438.00 L675.93,436.50 L676.14,435.00 L676.34,433.50 L676.54,432.00 L676.73,430.50 L676.92,429.00 L677.10,427.51 L677.28,426.01 L677.46,424.51 L677.63,423.01 L677.79,421.51 L677.95,420.02 L678.11,418.52 L678.27,417.02 L678.42,415.53 L678.57,414.03 L678.72,412.53 L678.86,411.04 L679.00,409.54 L679.14,408.04 L679.27,406.55 L679.41,405.05 L679.54,403.56 L679.67,402.07 L679.80,400.57 L679.93,399.08 L680.05,397.58 L680.18,396.09 L680.30,394.60 L680.42,393.10 L680.55,391.61 L680.67,390.12 L680.79,388.63 L680.91,387.14 L681.04,385.64 L681.16,384.15 L681.28,382.66 L681.41,381.17 L681.53,379.68 L681.65,378.19 L681.78,376.71 L681.91,375.22 L682.04,373.73 L682.17,372.24 L682.30,370.75 L682.44,369.26 L682.57,367.78 L682.71,366.29 L682.86,364.81 L683.00,363.32 L683.15,361.83 L683.30,360.35 L683.45,358.86 L683.61,357.38 L683.77,355.90 L683.93,354.41 L684.10,352.93 L684.27,351.45 L684.45,349.97 L684.63,348.49 L684.82,347.00 L685.01,345.52 L685.20,344.04 L685.40,342.56 L685.61,341.08 L685.82,339.61 L686.03,338.13 L686.25,336.65 L686.48,335.17 L686.72,333.70 L686.96,332.22 L687.20,330.74 L687.46,329.27 L687.72,327.79 L687.98,326.32 L688.26,324.84 L688.54,323.37 L688.83,321.90 L689.12,320.43 L689.43,318.95 L689.74,317.48 L690.06,316.01 L690.39,314.54 L690.72,313.07 L691.07,311.60 L691.42,310.14 L691.79,308.67 L692.16,307.20 L692.54,305.73 L692.93,304.27 L693.33,302.80 L693.75,301.34 L694.17,299.87 L694.60,298.41 L695.04,296.95 L695.49,295.48 L695.95,294.02 L696.43,292.56 L696.91,291.10 L697.41,289.64 L697.91,288.18 L698.43,286.72 L698.97,285.27 L699.51,283.82 L700.08,282.38 L700.66,280.95 L701.26,279.53 L701.87,278.12 L702.51,276.72 L703.17,275.33 L703.85,273.97 L704.56,272.61 L705.29,271.28 L706.04,269.97 L706.83,268.68 L707.63,267.42 L708.47,266.18 L709.34,264.96 L710.24,263.78 L711.17,262.62 L712.14,261.50 L713.14,260.40 L714.17,259.35 L715.25,258.34 L716.36,257.38 L717.50,256.47 L718.69,255.62 L719.92,254.83 L721.19,254.12 L722.51,253.48 L723.86,252.92 L725.24,252.44 L726.65,252.03 L728.08,251.72 L729.52,251.48 L730.98,251.34 L732.44,251.28 L733.90,251.31 L735.35,251.42 L736.80,251.61 L738.23,251.87 L739.63,252.22 L741.01,252.63 L742.36,253.11 L743.68,253.66 L744.97,254.28 L746.23,254.95 L747.47,255.68 L748.67,256.48 L749.85,257.32 L751.00,258.22 L752.13,259.16 L753.23,260.16 L754.30,261.19 L755.35,262.27 L756.37,263.39 L757.36,264.55 L758.34,265.74 L759.29,266.96 L760.21,268.21 L761.12,269.49 L762.00,270.79 L762.85,272.12 L763.69,273.46 L764.51,274.83 L765.30,276.20 L766.07,277.59 L766.83,278.99 L767.56,280.40 L768.28,281.81 L768.97,283.23 L769.65,284.64 L770.31,286.06 L770.95,287.47 L771.58,288.88 L772.19,290.28 L772.78,291.69 L773.36,293.09 L773.92,294.50 L774.47,295.90 L775.00,297.30 L775.52,298.71 L776.02,300.11 L776.51,301.51 L776.99,302.91 L777.45,304.32 L777.91,305.72 L778.35,307.13 L778.78,308.53 L779.20,309.94 L779.60,311.35 L780.00,312.76 L780.39,314.18 L780.77,315.60 L781.14,317.02 L781.51,318.44 L781.86,319.86 L782.21,321.29 L782.55,322.73 L782.88,324.17 L783.21,325.61 L783.53,327.05 L783.85,328.50 L784.16,329.95 L784.46,331.40 L784.76,332.86 L785.05,334.32 L785.34,335.79 L785.62,337.25 L785.90,338.72 L786.18,340.19 L786.45,341.67 L786.72,343.14 L786.98,344.62 L787.24,346.10 L787.50,347.58 L787.75,349.07 L788.00,350.55 L788.25,352.04 L788.50,353.53 L788.75,355.02 L788.99,356.51 L789.23,358.00 L789.47,359.49 L789.72,360.99 L789.95,362.48 L790.19,363.98 L790.43,365.47 L790.67,366.97 L790.91,368.47 L791.15,369.97 L791.39,371.46 L791.63,372.96 L791.88,374.46 L792.12,375.95 L792.36,377.45 L792.61,378.95 L792.86,380.44 L793.11,381.94 L793.37,383.43 L793.62,384.92 L793.88,386.41 L794.15,387.90 L794.41,389.39 L794.68,390.88 L794.96,392.37 L795.24,393.85 L795.52,395.34 L795.81,396.82 L796.10,398.30 L796.40,399.77 L796.70,401.25 L797.01,402.72 L797.32,404.19 L797.64,405.66 L797.97,407.12 L798.30,408.58 L798.64,410.04 L798.99,411.50 L799.34,412.95 L799.70,414.40 L800.07,415.85 L800.45,417.29 L800.83,418.73 L801.23,420.16 L801.63,421.60 L802.04,423.02 L802.46,424.45 L802.89,425.87 L803.32,427.28 L803.77,428.69 L804.23,430.10 L804.70,431.50 L805.02,430.07 L805.33,428.63 L805.64,427.18 L805.94,425.73 L806.23,424.28 L806.52,422.82 L806.80,421.36 L807.08,419.90 L807.35,418.43 L807.62,416.96 L807.89,415.48 L808.15,414.00 L808.41,412.52 L808.66,411.04 L808.92,409.55 L809.17,408.06 L809.42,406.57 L809.66,405.07 L809.91,403.58 L810.16,402.08 L810.40,400.58 L810.64,399.08 L810.89,397.58 L811.13,396.07 L811.37,394.57 L811.62,393.06 L811.87,391.56 L812.11,390.05 L812.36,388.55 L812.62,387.04 L812.87,385.53 L813.13,384.03 L813.39,382.52 L813.65,381.02 L813.92,379.51 L814.19,378.01 L814.46,376.51 L814.74,375.01 L815.03,373.51 L815.32,372.02 L815.61,370.52 L815.91,369.03 L816.22,367.54 L816.53,366.05 L816.85,364.56 L817.18,363.08 L817.52,361.60 L817.86,360.13 L818.21,358.65 L818.57,357.18 L818.94,355.72 L819.32,354.25 L819.70,352.80 L820.10,351.34 L820.50,349.89 L820.92,348.45 L821.35,347.01 L821.78,345.57 L822.23,344.14 L822.69,342.72 L823.17,341.30 L823.65,339.88 L824.15,338.47 L824.66,337.07 L825.18,335.67 L825.71,334.28 L826.26,332.90 L826.83,331.52 L827.41,330.15 L828.00,328.79 L828.61,327.44 L829.23,326.09 L829.87,324.75 L830.52,323.41 L831.19,322.09 L831.88,320.77 L832.59,319.46 L833.31,318.16 L834.05,316.87 L834.80,315.58 L835.58,314.31 L836.37,313.04 L837.18,311.79 L838.01,310.54 L838.86,309.30 L839.73,308.08 L840.62,306.86 L841.53,305.65 L842.46,304.45 L843.42,303.27 L844.39,302.09 L845.38,300.93 L846.40,299.77 L847.44,298.63 L848.50,297.50" fill="none" stroke="#000" stroke-width="2.6" stroke-linejoin="round" stroke-linecap="butt"/>
<path d="M111.30,363.50 L112.42,364.53 L113.52,365.56 L114.63,366.60 L115.72,367.64 L116.81,368.70 L117.90,369.76 L118.97,370.82 L120.05,371.90 L121.11,372.98 L122.17,374.06 L123.22,375.15 L124.27,376.25 L125.31,377.35 L126.35,378.46 L127.38,379.58 L128.40,380.70 L129.42,381.83 L130.43,382.96 L131.44,384.10 L132.44,385.24 L133.43,386.39 L134.42,387.54 L135.41,388.70 L136.39,389.86 L137.36,391.03 L138.33,392.20 L139.29,393.38 L140.25,394.56 L141.20,395.74 L142.14,396.93 L143.08,398.13 L144.02,399.32 L144.95,400.53 L145.88,401.73 L146.80,402.94 L147.71,404.16 L148.62,405.37 L149.53,406.59 L150.43,407.82 L151.32,409.05 L152.21,410.28 L153.10,411.51 L153.98,412.75 L154.86,413.99 L155.73,415.23 L156.59,416.48 L157.46,417.72 L158.31,418.97 L159.17,420.23 L160.02,421.48 L160.86,422.74 L161.70,424.00" fill="none" stroke="#0000f2" stroke-width="2.7" stroke-linejoin="round" stroke-linecap="round" stroke-dasharray="14.3 10.8 1.2 10.8" stroke-dashoffset="0.00"/>
<path d="M161.70,424.00 L162.53,425.29 L163.35,426.59 L164.15,427.90 L164.93,429.22 L165.70,430.54 L166.45,431.86 L167.18,433.20 L167.90,434.54 L168.60,435.89 L169.29,437.24 L169.96,438.60 L170.62,439.97 L171.26,441.34 L171.89,442.72 L172.51,444.10 L173.11,445.49 L173.69,446.88 L174.26,448.28 L174.82,449.68 L175.37,451.09 L175.90,452.51 L176.42,453.92 L176.93,455.35 L177.42,456.77 L177.91,458.21 L178.38,459.64 L178.84,461.08 L179.28,462.52 L179.72,463.97 L180.15,465.42 L180.56,466.88 L180.97,468.33 L181.36,469.79 L181.74,471.26 L182.12,472.72 L182.48,474.19 L182.83,475.67 L183.18,477.14 L183.51,478.62 L183.84,480.10 L184.16,481.58 L184.47,483.06 L184.77,484.55 L185.06,486.04 L185.35,487.53 L185.63,489.02 L185.90,490.51 L186.17,492.00 L186.43,493.50 L186.69,494.99 L186.94,496.49 L187.19,497.99 L187.44,499.48 L187.68,500.98 L187.92,502.48 L188.16,503.98 L188.40,505.48 L188.64,506.98 L188.88,508.48 L189.12,509.97 L189.36,511.47 L189.60,512.97 L189.85,514.47 L190.10,515.96 L190.35,517.46 L190.60,518.95 L190.86,520.44 L191.13,521.93 L191.40,523.42 L191.68,524.91 L191.96,526.40 L192.25,527.88 L192.55,529.36 L192.86,530.84 L193.17,532.32 L193.50,533.80 L193.83,535.27 L194.18,536.74 L194.53,538.21 L194.90,539.67 L195.28,541.13 L195.67,542.59 L196.08,544.05 L196.50,545.50 L197.06,544.03 L197.58,542.57 L198.06,541.10 L198.52,539.63 L198.95,538.16 L199.34,536.69 L199.71,535.22 L200.05,533.75 L200.37,532.27 L200.67,530.80 L200.94,529.33 L201.19,527.85 L201.43,526.38 L201.65,524.90 L201.85,523.42 L202.04,521.95 L202.21,520.47 L202.38,518.99 L202.53,517.51 L202.68,516.03 L202.82,514.55 L202.95,513.07 L203.08,511.59 L203.21,510.11 L203.34,508.62 L203.47,507.14 L203.60,505.66 L203.74,504.17 L203.88,502.69 L204.02,501.21 L204.16,499.72 L204.31,498.24 L204.46,496.75 L204.61,495.27 L204.76,493.78 L204.92,492.29 L205.08,490.81 L205.25,489.32 L205.41,487.84 L205.58,486.35 L205.75,484.86 L205.92,483.38 L206.10,481.89 L206.28,480.40 L206.46,478.92 L206.64,477.43 L206.83,475.94 L207.01,474.45 L207.20,472.97 L207.39,471.48 L207.59,469.99 L207.78,468.51 L207.98,467.02 L208.18,465.53 L208.38,464.05 L208.58,462.56 L208.79,461.08 L209.00,459.59 L209.21,458.10 L209.42,456.62 L209.63,455.13 L209.84,453.65 L210.06,452.16 L210.28,450.68 L210.50,449.20 L210.73,447.71 L210.96,446.23 L211.19,444.75 L211.42,443.27 L211.65,441.78 L211.89,440.30 L212.13,438.82 L212.38,437.34 L212.62,435.86 L212.87,434.38 L213.13,432.90 L213.38,431.43 L213.64,429.95 L213.90,428.47 L214.17,427.00 L214.44,425.52 L214.71,424.05 L214.99,422.57 L215.27,421.10 L215.55,419.63 L215.84,418.16 L216.13,416.68 L216.43,415.21 L216.73,413.74 L217.03,412.28 L217.34,410.81 L217.65,409.34 L217.97,407.88 L218.29,406.41 L218.62,404.95 L218.94,403.48 L219.28,402.02 L219.62,400.56 L219.96,399.10 L220.31,397.64 L220.66,396.18 L221.01,394.73 L221.37,393.27 L221.74,391.82 L222.11,390.36 L222.48,388.91 L222.86,387.46 L223.24,386.01 L223.63,384.56 L224.03,383.12 L224.42,381.67 L224.83,380.22 L225.24,378.78 L225.65,377.34 L226.07,375.90 L226.49,374.46 L226.92,373.02 L227.35,371.58 L227.79,370.15 L228.23,368.71 L228.68,367.28 L229.13,365.85 L229.59,364.42 L230.05,362.99 L230.52,361.57 L230.99,360.14 L231.47,358.72 L231.96,357.30 L232.45,355.88 L232.94,354.46 L233.44,353.04 L233.95,351.63 L234.46,350.22 L234.98,348.80 L235.50,347.39 L236.03,345.99 L236.57,344.58 L237.11,343.18 L237.65,341.77 L238.20,340.37 L238.76,338.97 L239.32,337.58 L239.89,336.18 L240.47,334.79 L241.05,333.40 L241.63,332.01 L242.23,330.62 L242.84,329.24 L243.45,327.87 L244.08,326.49 L244.71,325.13 L245.36,323.77 L246.02,322.41 L246.70,321.07 L247.39,319.73 L248.09,318.39 L248.82,317.07 L249.55,315.76 L250.31,314.45 L251.09,313.16 L251.88,311.87 L252.70,310.60 L253.54,309.34 L254.40,308.09 L255.28,306.86 L256.19,305.64 L257.12,304.43 L258.08,303.23 L259.06,302.06 L260.07,300.89 L261.11,299.76 L262.17,298.64 L263.26,297.57 L264.37,296.52 L265.51,295.52 L266.66,294.56 L267.84,293.66 L269.05,292.81 L270.27,292.01 L271.52,291.29 L272.79,290.63 L274.08,290.04 L275.38,289.54 L276.71,289.11 L278.06,288.78 L279.42,288.53 L280.80,288.38 L282.20,288.33 L283.61,288.39 L285.04,288.56 L286.47,288.82 L287.89,289.18 L289.31,289.63 L290.70,290.17 L292.07,290.79 L293.40,291.49 L294.69,292.27 L295.94,293.12 L297.12,294.04 L298.24,295.02 L299.30,296.06 L300.29,297.16 L301.22,298.30 L302.09,299.50 L302.92,300.73 L303.70,302.01 L304.44,303.32 L305.15,304.66 L305.83,306.03 L306.48,307.42 L307.10,308.83 L307.70,310.27 L308.29,311.72 L308.85,313.18 L309.41,314.65 L309.95,316.13 L310.48,317.62 L311.01,319.11 L311.53,320.60 L312.06,322.09 L312.58,323.57 L313.11,325.05 L313.65,326.52 L314.20,327.97 L314.76,329.41 L315.33,330.83 L315.92,332.23 L316.54,333.61 L317.17,334.96 L317.83,336.29 L318.53,337.58 L319.25,338.84 L320.00,340.07 L320.80,341.25 L321.63,342.40 L322.50,343.50 L323.62,342.29 L324.65,341.07 L325.60,339.83 L326.46,338.58 L327.26,337.31 L327.99,336.03 L328.66,334.74 L329.27,333.43 L329.83,332.11 L330.35,330.78 L330.83,329.44 L331.27,328.08 L331.69,326.72 L332.08,325.34 L332.46,323.96 L332.82,322.56 L333.16,321.16 L333.49,319.75 L333.81,318.33 L334.11,316.91 L334.41,315.47 L334.69,314.03 L334.97,312.59 L335.24,311.13 L335.51,309.68 L335.77,308.21 L336.03,306.75 L336.29,305.28 L336.54,303.80 L336.80,302.33 L337.06,300.85 L337.33,299.37 L337.59,297.88 L337.86,296.40 L338.13,294.91 L338.41,293.42 L338.69,291.93 L338.97,290.44 L339.25,288.95 L339.54,287.46 L339.83,285.96 L340.12,284.47 L340.42,282.98 L340.72,281.48 L341.02,279.99 L341.32,278.49 L341.63,277.00 L341.94,275.51 L342.25,274.02 L342.56,272.53 L342.88,271.04 L343.19,269.56 L343.51,268.07 L343.84,266.59 L344.16,265.11 L344.49,263.63 L344.82,262.15 L345.15,260.67 L345.49,259.20 L345.82,257.72 L346.16,256.25 L346.51,254.78 L346.85,253.31 L347.20,251.84 L347.55,250.38 L347.91,248.91 L348.26,247.45 L348.62,245.99 L348.99,244.53 L349.35,243.07 L349.72,241.61 L350.10,240.16 L350.47,238.70 L350.85,237.25 L351.23,235.80 L351.62,234.35 L352.01,232.90 L352.40,231.45 L352.80,230.01 L353.20,228.56 L353.61,227.12 L354.01,225.68 L354.42,224.24 L354.84,222.80 L355.26,221.36 L355.68,219.93 L356.11,218.49 L356.54,217.06 L356.98,215.62 L357.42,214.19 L357.86,212.76 L358.31,211.33 L358.76,209.91 L359.22,208.48 L359.68,207.05 L360.15,205.63 L360.62,204.21 L361.09,202.79 L361.57,201.37 L362.06,199.95 L362.55,198.53 L363.04,197.11 L363.54,195.70 L364.04,194.29 L364.55,192.87 L365.07,191.46 L365.59,190.06 L366.11,188.65 L366.64,187.25 L367.18,185.84 L367.72,184.44 L368.26,183.04 L368.81,181.65 L369.37,180.25 L369.94,178.86 L370.51,177.47 L371.08,176.09 L371.66,174.70 L372.25,173.32 L372.84,171.94 L373.44,170.56 L374.05,169.19 L374.66,167.81 L375.28,166.45 L375.90,165.08 L376.54,163.72 L377.17,162.35 L377.82,161.00 L378.47,159.64 L379.13,158.29 L379.79,156.94 L380.47,155.60 L381.15,154.26 L381.83,152.92 L382.53,151.58 L383.23,150.25 L383.94,148.92 L384.65,147.60 L385.37,146.28 L386.10,144.96 L386.84,143.65 L387.59,142.34 L388.34,141.03 L389.10,139.73 L389.87,138.43 L390.65,137.14 L391.44,135.85 L392.23,134.56 L393.03,133.28 L393.84,132.00 L394.66,130.73 L395.48,129.46 L396.32,128.20 L397.16,126.94 L398.01,125.69 L398.87,124.44 L399.74,123.19 L400.62,121.95 L401.51,120.72 L402.40,119.49 L403.31,118.26 L404.22,117.05 L405.15,115.84 L406.08,114.63 L407.02,113.44 L407.97,112.25 L408.93,111.08 L409.90,109.91 L410.88,108.75 L411.87,107.60 L412.87,106.46 L413.88,105.33 L414.89,104.21 L415.92,103.10 L416.96,102.01 L418.01,100.93 L419.07,99.86 L420.14,98.80 L421.21,97.76 L422.30,96.73 L423.40,95.71 L424.51,94.71 L425.63,93.72 L426.76,92.75 L427.91,91.80 L429.06,90.86 L430.22,89.94 L431.40,89.03 L432.58,88.14 L433.78,87.27 L434.99,86.42 L436.20,85.59 L437.43,84.77 L438.67,83.98 L439.93,83.21 L441.19,82.45 L442.47,81.72 L443.75,81.00 L445.05,80.31 L446.36,79.64 L447.68,79.00 L449.02,78.37 L450.36,77.77 L451.72,77.19 L453.09,76.64 L454.47,76.11 L455.87,75.60 L457.28,75.12 L458.70,74.67 L460.13,74.24 L461.57,73.84 L463.03,73.46 L464.50,73.11 L465.98,72.79 L467.47,72.50 L468.98,72.23 L470.50,71.99 L472.04,71.79 L473.58,71.61 L475.14,71.46 L476.71,71.34 L478.30,71.26 L479.90,71.20" fill="none" stroke="#0000f2" stroke-width="2.7" stroke-linejoin="round" stroke-linecap="round" stroke-dasharray="14.3 10.8 1.2 10.8" stroke-dashoffset="32.10"/>
<path d="M479.90,71.20 L481.40,71.30 L482.89,71.42 L484.39,71.58 L485.88,71.76 L487.37,71.97 L488.86,72.21 L490.34,72.48 L491.82,72.77 L493.30,73.09 L494.77,73.44 L496.24,73.81 L497.70,74.21 L499.16,74.63 L500.61,75.08 L502.05,75.56 L503.48,76.05 L504.90,76.58 L506.32,77.12 L507.73,77.69 L509.12,78.28 L510.51,78.89 L511.88,79.53 L513.24,80.18 L514.59,80.86 L515.93,81.56 L517.26,82.27 L518.57,83.01 L519.87,83.77 L521.15,84.55 L522.41,85.34 L523.67,86.15 L524.90,86.99 L526.12,87.84 L527.32,88.70 L528.51,89.59 L529.69,90.49 L530.85,91.40 L532.00,92.33 L533.13,93.28 L534.25,94.24 L535.35,95.22 L536.45,96.21 L537.53,97.22 L538.59,98.24 L539.65,99.27 L540.69,100.31 L541.73,101.37 L542.75,102.44 L543.75,103.52 L544.75,104.61 L545.74,105.71 L546.72,106.83 L547.69,107.95 L548.64,109.08 L549.59,110.22 L550.53,111.37 L551.46,112.53 L552.38,113.70 L553.29,114.88 L554.20,116.06 L555.10,117.25 L555.99,118.45 L556.87,119.65 L557.74,120.86 L558.61,122.08 L559.47,123.30 L560.32,124.53 L561.16,125.76 L562.00,127.00 L562.83,128.25 L563.65,129.50 L564.47,130.76 L565.27,132.02 L566.07,133.29 L566.87,134.57 L567.65,135.85 L568.43,137.13 L569.21,138.42 L569.97,139.72 L570.73,141.02 L571.48,142.32 L572.23,143.63 L572.97,144.95 L573.70,146.26 L574.42,147.59 L575.14,148.92 L575.85,150.25 L576.56,151.58 L577.25,152.92 L577.95,154.27 L578.63,155.62 L579.31,156.97 L579.98,158.32 L580.65,159.68 L581.31,161.05 L581.96,162.41 L582.61,163.78 L583.25,165.16 L583.88,166.53 L584.51,167.91 L585.14,169.29 L585.75,170.68 L586.36,172.07 L586.97,173.46 L587.57,174.85 L588.16,176.24 L588.75,177.64 L589.33,179.04 L589.90,180.44 L590.47,181.85 L591.03,183.25 L591.59,184.66 L592.15,186.07 L592.69,187.48 L593.23,188.90 L593.77,190.31 L594.30,191.73 L594.83,193.14 L595.35,194.56 L595.86,195.98 L596.37,197.40 L596.87,198.82 L597.37,200.25 L597.87,201.67 L598.36,203.10 L598.84,204.52 L599.32,205.95 L599.79,207.38 L600.26,208.81 L600.73,210.24 L601.19,211.67 L601.64,213.10 L602.10,214.53 L602.54,215.96 L602.99,217.40 L603.43,218.83 L603.86,220.27 L604.29,221.70 L604.72,223.14 L605.14,224.58 L605.56,226.02 L605.98,227.46 L606.39,228.90 L606.80,230.34 L607.20,231.78 L607.60,233.22 L608.00,234.67 L608.40,236.11 L608.79,237.56 L609.18,239.00 L609.57,240.45 L609.95,241.89 L610.33,243.34 L610.71,244.79 L611.08,246.23 L611.45,247.68 L611.82,249.13 L612.19,250.58 L612.55,252.03 L612.92,253.48 L613.28,254.93 L613.64,256.39 L613.99,257.84 L614.34,259.29 L614.70,260.74 L615.05,262.20 L615.40,263.65 L615.74,265.10 L616.09,266.56 L616.43,268.01 L616.77,269.47 L617.11,270.92 L617.45,272.38 L617.79,273.83 L618.12,275.29 L618.46,276.75 L618.79,278.20 L619.12,279.66 L619.44,281.12 L619.77,282.57 L620.09,284.03 L620.41,285.49 L620.73,286.95 L621.04,288.40 L621.35,289.86 L621.66,291.32 L621.97,292.78 L622.27,294.24 L622.57,295.69 L622.86,297.15 L623.15,298.61 L623.44,300.07 L623.73,301.53 L624.01,302.99 L624.28,304.44 L624.56,305.90 L624.82,307.36 L625.09,308.82 L625.35,310.28 L625.62,311.73 L625.89,313.19 L626.16,314.65 L626.43,316.11 L626.71,317.56 L627.00,319.02 L627.30,320.48 L627.61,321.94 L627.93,323.39 L628.26,324.85 L628.61,326.30 L628.98,327.76 L629.37,329.22 L629.77,330.67 L630.20,332.13 L630.65,333.58 L631.12,335.04 L631.62,336.49 L632.14,337.94 L632.70,339.40 L633.28,340.85 L633.90,342.30 L635.32,341.62 L636.62,340.84 L637.81,339.99 L638.89,339.06 L639.87,338.05 L640.77,336.98 L641.59,335.85 L642.34,334.67 L643.03,333.43 L643.67,332.14 L644.26,330.82 L644.82,329.46 L645.36,328.07 L645.88,326.65 L646.40,325.22 L646.91,323.77 L647.42,322.30 L647.93,320.83 L648.45,319.34 L648.97,317.86 L649.50,316.37 L650.04,314.88 L650.60,313.40 L651.18,311.93 L651.78,310.47 L652.40,309.03 L653.04,307.60 L653.71,306.20 L654.42,304.82 L655.15,303.46 L655.93,302.14 L656.73,300.86 L657.58,299.61 L658.47,298.40 L659.40,297.24 L660.38,296.13 L661.41,295.07 L662.48,294.07 L663.60,293.14 L664.77,292.26 L666.00,291.46 L667.28,290.73 L668.62,290.07 L670.01,289.49 L671.45,289.00 L672.91,288.60 L674.39,288.29 L675.88,288.07 L677.37,287.95 L678.84,287.93 L680.29,288.03 L681.70,288.23 L683.09,288.53 L684.43,288.93 L685.75,289.42 L687.03,289.99 L688.28,290.64 L689.51,291.37 L690.70,292.16 L691.86,293.00 L693.00,293.90 L694.11,294.85 L695.19,295.84 L696.25,296.87 L697.28,297.94 L698.29,299.05 L699.27,300.19 L700.23,301.37 L701.17,302.57 L702.09,303.81 L702.99,305.06 L703.87,306.34 L704.74,307.64 L705.58,308.96 L706.41,310.29 L707.22,311.63 L708.02,312.99 L708.80,314.35 L709.57,315.72 L710.32,317.09 L711.06,318.46 L711.79,319.83 L712.51,321.20 L713.22,322.57 L713.91,323.95 L714.60,325.32 L715.27,326.70 L715.93,328.08 L716.58,329.46 L717.22,330.84 L717.85,332.22 L718.47,333.61 L719.08,334.99 L719.68,336.38 L720.27,337.77 L720.85,339.16 L721.42,340.55 L721.99,341.94 L722.54,343.33 L723.09,344.73 L723.62,346.13 L724.15,347.53 L724.68,348.93 L725.19,350.33 L725.70,351.73 L726.20,353.14 L726.69,354.55 L727.18,355.96 L727.66,357.37 L728.13,358.78 L728.60,360.19 L729.06,361.61 L729.52,363.03 L729.97,364.45 L730.41,365.87 L730.85,367.30 L731.29,368.73 L731.72,370.15 L732.14,371.58 L732.56,373.02 L732.98,374.45 L733.39,375.89 L733.79,377.33 L734.19,378.77 L734.59,380.21 L734.98,381.65 L735.37,383.10 L735.75,384.54 L736.13,385.99 L736.51,387.44 L736.88,388.89 L737.24,390.35 L737.60,391.80 L737.96,393.26 L738.32,394.72 L738.66,396.18 L739.01,397.64 L739.35,399.10 L739.69,400.56 L740.02,402.03 L740.35,403.50 L740.68,404.96 L741.00,406.43 L741.32,407.90 L741.63,409.37 L741.94,410.85 L742.25,412.32 L742.55,413.79 L742.85,415.27 L743.15,416.75 L743.44,418.23 L743.73,419.70 L744.02,421.18 L744.30,422.67 L744.58,424.15 L744.86,425.63 L745.14,427.11 L745.41,428.60 L745.68,430.08 L745.94,431.57 L746.20,433.06 L746.46,434.54 L746.72,436.03 L746.98,437.52 L747.23,439.01 L747.48,440.50 L747.72,441.99 L747.97,443.48 L748.21,444.98 L748.45,446.47 L748.68,447.96 L748.92,449.45 L749.15,450.95 L749.38,452.44 L749.61,453.94 L749.83,455.43 L750.05,456.93 L750.27,458.42 L750.49,459.92 L750.71,461.41 L750.93,462.91 L751.14,464.41 L751.35,465.90 L751.56,467.40 L751.77,468.90 L751.97,470.39 L752.18,471.89 L752.38,473.39 L752.58,474.88 L752.78,476.38 L752.97,477.88 L753.17,479.37 L753.36,480.87 L753.55,482.36 L753.74,483.86 L753.92,485.36 L754.10,486.85 L754.28,488.35 L754.46,489.84 L754.64,491.34 L754.81,492.83 L754.98,494.32 L755.15,495.82 L755.31,497.31 L755.47,498.80 L755.63,500.29 L755.79,501.78 L755.94,503.27 L756.09,504.76 L756.23,506.25 L756.38,507.74 L756.52,509.23 L756.65,510.72 L756.79,512.20 L756.92,513.69 L757.04,515.18 L757.16,516.66 L757.28,518.14 L757.40,519.62 L757.52,521.11 L757.64,522.59 L757.77,524.07 L757.90,525.55 L758.05,527.02 L758.20,528.50 L758.37,529.97 L758.55,531.45 L758.75,532.92 L758.97,534.39 L759.22,535.86 L759.48,537.33 L759.77,538.80 L760.10,540.27 L760.45,541.74 L760.83,543.20 L761.25,544.66 L761.70,546.12 L762.19,547.58 L762.72,549.04 L763.30,550.50 L763.67,549.02 L764.04,547.53 L764.39,546.05 L764.73,544.56 L765.07,543.07 L765.39,541.58 L765.71,540.09 L766.01,538.60 L766.31,537.11 L766.61,535.62 L766.89,534.13 L767.17,532.63 L767.44,531.14 L767.71,529.65 L767.97,528.15 L768.22,526.66 L768.48,525.17 L768.72,523.67 L768.97,522.18 L769.21,520.68 L769.44,519.19 L769.68,517.70 L769.91,516.21 L770.14,514.71 L770.37,513.22 L770.60,511.73 L770.83,510.24 L771.06,508.75 L771.29,507.26 L771.52,505.77 L771.75,504.28 L771.98,502.80 L772.22,501.31 L772.45,499.83 L772.69,498.35 L772.94,496.86 L773.18,495.38 L773.43,493.91 L773.69,492.43 L773.95,490.95 L774.22,489.48 L774.49,488.01 L774.77,486.54 L775.05,485.07 L775.34,483.61 L775.64,482.14 L775.95,480.68 L776.26,479.22 L776.59,477.76 L776.92,476.31 L777.26,474.86 L777.61,473.41 L777.98,471.96 L778.35,470.52 L778.73,469.08 L779.13,467.64 L779.54,466.20 L779.96,464.77 L780.39,463.34 L780.84,461.91 L781.30,460.49 L781.77,459.07 L782.26,457.65 L782.76,456.24 L783.28,454.83 L783.82,453.43 L784.37,452.02 L784.93,450.62 L785.51,449.23 L786.11,447.84 L786.72,446.45 L787.34,445.07 L787.98,443.69 L788.63,442.32 L789.29,440.95 L789.97,439.58 L790.66,438.22 L791.36,436.86 L792.07,435.51 L792.79,434.16 L793.53,432.81 L794.27,431.47 L795.03,430.14 L795.79,428.81 L796.56,427.48 L797.34,426.16 L798.12,424.84 L798.91,423.53 L799.70,422.22 L800.50,420.92 L801.29,419.62 L802.09,418.33 L802.88,417.05 L803.67,415.77 L804.46,414.49 L805.25,413.22 L806.04,411.96 L806.83,410.70 L807.63,409.44 L808.44,408.19 L809.26,406.95 L810.09,405.71 L810.94,404.48 L811.80,403.26 L812.68,402.04 L813.58,400.82 L814.51,399.62 L815.44,398.41 L816.39,397.22 L817.36,396.03 L818.33,394.85 L819.31,393.67 L820.29,392.50 L821.28,391.33 L822.26,390.18 L823.25,389.03 L824.23,387.88 L825.22,386.74 L826.20,385.61 L827.19,384.49 L828.18,383.37 L829.18,382.26 L830.18,381.15 L831.18,380.06 L832.20,378.97 L833.22,377.88 L834.25,376.81 L835.28,375.74 L836.33,374.68 L837.38,373.63 L838.45,372.58 L839.52,371.54 L840.61,370.51 L841.70,369.48 L842.81,368.47 L843.92,367.46 L845.05,366.46 L846.19,365.46 L847.34,364.48 L848.50,363.50" fill="none" stroke="#0000f2" stroke-width="2.7" stroke-linejoin="round" stroke-linecap="round" stroke-dasharray="14.3 10.8 1.2 10.8" stroke-dashoffset="25.53"/>
<path d="M111.30,352.50 L112.31,353.68 L113.30,354.87 L114.25,356.08 L115.18,357.30 L116.08,358.53 L116.95,359.77 L117.80,361.03 L118.62,362.30 L119.42,363.58 L120.19,364.87 L120.94,366.17 L121.67,367.49 L122.37,368.81 L123.05,370.15 L123.71,371.49 L124.35,372.84 L124.97,374.21 L125.58,375.58 L126.16,376.96 L126.73,378.35 L127.27,379.75 L127.81,381.15 L128.32,382.56 L128.82,383.98 L129.31,385.41 L129.78,386.84 L130.24,388.28 L130.69,389.72 L131.13,391.17 L131.55,392.63 L131.96,394.09 L132.37,395.56 L132.76,397.03 L133.15,398.50 L133.52,399.98 L133.90,401.46 L134.26,402.94 L134.62,404.43 L134.97,405.92 L135.32,407.41 L135.66,408.90 L136.00,410.40 L136.34,411.89 L136.67,413.39 L137.00,414.89 L137.32,416.39 L137.64,417.88 L137.95,419.38 L138.26,420.88 L138.56,422.38 L138.85,423.87 L139.14,425.37 L139.43,426.86 L139.71,428.35 L139.99,429.84 L140.26,431.32 L140.54,432.81 L140.81,434.28 L141.09,435.76 L141.37,437.23 L141.65,438.70 L141.93,440.16 L142.22,441.62 L142.52,443.07 L142.84,444.52 L143.18,445.96 L143.54,447.40 L143.93,448.83 L144.35,450.25 L144.81,451.67 L145.30,453.08 L145.84,454.48 L146.42,455.87 L147.06,457.26 L147.75,458.63 L148.50,460.00 L149.14,458.56 L149.75,457.12 L150.32,455.67 L150.86,454.23 L151.37,452.78 L151.84,451.33 L152.29,449.88 L152.72,448.43 L153.12,446.98 L153.49,445.53 L153.85,444.08 L154.19,442.63 L154.51,441.17 L154.81,439.72 L155.10,438.26 L155.38,436.81 L155.65,435.35 L155.91,433.89 L156.17,432.43 L156.42,430.97 L156.66,429.51 L156.90,428.05 L157.14,426.59 L157.38,425.13 L157.62,423.67 L157.86,422.20 L158.10,420.74 L158.34,419.28 L158.58,417.81 L158.82,416.35 L159.07,414.88 L159.31,413.42 L159.56,411.95 L159.81,410.49 L160.06,409.02 L160.32,407.55 L160.57,406.09 L160.83,404.62 L161.09,403.15 L161.35,401.69 L161.62,400.22 L161.89,398.75 L162.16,397.29 L162.44,395.82 L162.71,394.35 L163.00,392.88 L163.28,391.42 L163.57,389.95 L163.86,388.48 L164.16,387.02 L164.46,385.55 L164.76,384.08 L165.07,382.62 L165.38,381.15 L165.70,379.69 L166.02,378.22 L166.35,376.76 L166.68,375.29 L167.01,373.83 L167.35,372.36 L167.70,370.90 L168.05,369.44 L168.41,367.98 L168.77,366.52 L169.14,365.05 L169.51,363.59 L169.89,362.13 L170.28,360.68 L170.67,359.22 L171.07,357.76 L171.48,356.30 L171.89,354.85 L172.31,353.39 L172.73,351.94 L173.17,350.48 L173.60,349.03 L174.05,347.58 L174.51,346.13 L174.97,344.68 L175.44,343.23 L175.91,341.78 L176.40,340.33 L176.89,338.89 L177.39,337.44 L177.90,336.00 L178.42,334.56 L178.94,333.12 L179.48,331.68 L180.02,330.25 L180.58,328.82 L181.15,327.39 L181.72,325.97 L182.31,324.56 L182.91,323.15 L183.53,321.75 L184.15,320.35 L184.79,318.97 L185.44,317.59 L186.10,316.22 L186.78,314.86 L187.47,313.51 L188.18,312.17 L188.90,310.84 L189.64,309.52 L190.39,308.21 L191.16,306.91 L191.95,305.63 L192.75,304.37 L193.57,303.11 L194.41,301.87 L195.27,300.65 L196.14,299.44 L197.04,298.24 L197.95,297.07 L198.88,295.91 L199.83,294.77 L200.81,293.64 L201.80,292.54 L202.81,291.45 L203.85,290.39 L204.91,289.34 L205.99,288.32 L207.09,287.32 L208.22,286.33 L209.37,285.38 L210.54,284.44 L211.73,283.53 L212.96,282.64 L214.20,281.78 L215.46,280.95 L216.75,280.16 L218.05,279.40 L219.37,278.69 L220.71,278.02 L222.06,277.40 L223.42,276.84 L224.79,276.33 L226.18,275.88 L227.57,275.49 L228.97,275.17 L230.37,274.92 L231.77,274.74 L233.18,274.64 L234.59,274.63 L236.00,274.69 L237.40,274.85 L238.81,275.09 L240.20,275.43 L241.59,275.86 L242.97,276.37 L244.34,276.96 L245.70,277.62 L247.05,278.35 L248.38,279.14 L249.70,279.98 L251.00,280.88 L252.28,281.81 L253.54,282.79 L254.78,283.80 L255.99,284.85 L257.18,285.92 L258.35,287.02 L259.49,288.15 L260.59,289.30 L261.67,290.47 L262.72,291.66 L263.73,292.86 L264.70,294.08 L265.64,295.32 L266.55,296.56 L267.42,297.82 L268.26,299.09 L269.07,300.37 L269.85,301.66 L270.61,302.96 L271.33,304.27 L272.03,305.59 L272.71,306.91 L273.36,308.25 L273.99,309.59 L274.60,310.95 L275.19,312.31 L275.77,313.67 L276.32,315.04 L276.87,316.42 L277.39,317.81 L277.91,319.19 L278.41,320.59 L278.91,321.98 L279.39,323.39 L279.87,324.79 L280.34,326.20 L280.81,327.61 L281.27,329.02 L281.74,330.44 L282.20,331.85 L282.66,333.27 L283.12,334.69 L283.58,336.11 L284.05,337.52 L284.53,338.94 L285.01,340.35 L285.50,341.77 L286.00,343.18 L286.51,344.59 L287.03,345.99 L287.57,347.40 L288.12,348.80 L288.68,350.19 L289.27,351.58 L289.87,352.97 L290.49,354.35 L291.13,355.73 L291.79,357.09 L292.48,358.46 L293.19,359.81 L293.93,361.16 L294.70,362.50 L295.65,361.20 L296.56,359.88 L297.42,358.57 L298.24,357.24 L299.01,355.91 L299.75,354.57 L300.45,353.23 L301.11,351.88 L301.73,350.53 L302.33,349.16 L302.89,347.80 L303.43,346.43 L303.93,345.05 L304.41,343.67 L304.87,342.28 L305.31,340.89 L305.72,339.49 L306.12,338.09 L306.50,336.68 L306.87,335.27 L307.22,333.86 L307.56,332.44 L307.90,331.02 L308.22,329.60 L308.54,328.17 L308.86,326.73 L309.17,325.30 L309.48,323.86 L309.80,322.42 L310.11,320.98 L310.43,319.53 L310.75,318.08 L311.08,316.63 L311.41,315.17 L311.74,313.72 L312.07,312.26 L312.41,310.80 L312.74,309.34 L313.09,307.88 L313.43,306.41 L313.78,304.95 L314.13,303.48 L314.48,302.02 L314.83,300.55 L315.19,299.08 L315.55,297.61 L315.92,296.14 L316.28,294.67 L316.65,293.20 L317.03,291.74 L317.40,290.27 L317.78,288.80 L318.17,287.33 L318.55,285.86 L318.94,284.40 L319.33,282.93 L319.72,281.47 L320.12,280.01 L320.52,278.54 L320.93,277.09 L321.33,275.63 L321.74,274.17 L322.16,272.72 L322.58,271.26 L323.00,269.81 L323.42,268.36 L323.85,266.92 L324.28,265.47 L324.71,264.03 L325.15,262.59 L325.59,261.15 L326.04,259.71 L326.49,258.27 L326.94,256.84 L327.40,255.41 L327.86,253.98 L328.32,252.55 L328.79,251.12 L329.27,249.70 L329.74,248.28 L330.23,246.86 L330.71,245.44 L331.20,244.03 L331.70,242.61 L332.20,241.20 L332.70,239.79 L333.21,238.38 L333.72,236.98 L334.24,235.58 L334.76,234.18 L335.29,232.78 L335.82,231.38 L336.35,229.99 L336.90,228.60 L337.44,227.21 L337.99,225.82 L338.55,224.44 L339.11,223.05 L339.68,221.67 L340.25,220.30 L340.83,218.92 L341.41,217.55 L342.00,216.18 L342.59,214.81 L343.19,213.44 L343.79,212.08 L344.40,210.72 L345.02,209.36 L345.64,208.01 L346.27,206.65 L346.90,205.30 L347.54,203.96 L348.18,202.61 L348.83,201.27 L349.49,199.93 L350.15,198.59 L350.82,197.26 L351.50,195.92 L352.18,194.60 L352.86,193.27 L353.56,191.94 L354.26,190.62 L354.96,189.30 L355.67,187.99 L356.39,186.68 L357.11,185.36 L357.84,184.06 L358.58,182.75 L359.32,181.45 L360.06,180.15 L360.82,178.85 L361.57,177.56 L362.33,176.26 L363.10,174.97 L363.87,173.69 L364.65,172.40 L365.44,171.12 L366.22,169.84 L367.02,168.56 L367.82,167.29 L368.62,166.01 L369.43,164.74 L370.24,163.48 L371.06,162.21 L371.88,160.95 L372.71,159.69 L373.54,158.43 L374.37,157.18 L375.21,155.92 L376.05,154.67 L376.90,153.43 L377.76,152.18 L378.62,150.94 L379.48,149.70 L380.35,148.47 L381.22,147.24 L382.10,146.01 L382.99,144.79 L383.88,143.57 L384.78,142.36 L385.68,141.15 L386.59,139.95 L387.50,138.75 L388.43,137.55 L389.36,136.36 L390.29,135.18 L391.23,134.00 L392.18,132.83 L393.14,131.67 L394.10,130.51 L395.08,129.36 L396.06,128.21 L397.04,127.07 L398.04,125.94 L399.04,124.81 L400.06,123.70 L401.08,122.59 L402.10,121.48 L403.14,120.39 L404.19,119.30 L405.24,118.23 L406.31,117.16 L407.38,116.10 L408.46,115.04 L409.56,114.00 L410.66,112.97 L411.77,111.95 L412.89,110.94 L414.03,109.94 L415.17,108.95 L416.32,107.97 L417.48,107.01 L418.66,106.07 L419.84,105.13 L421.04,104.22 L422.25,103.32 L423.46,102.44 L424.69,101.57 L425.94,100.72 L427.19,99.89 L428.45,99.08 L429.73,98.30 L431.02,97.53 L432.32,96.78 L433.64,96.05 L434.96,95.35 L436.30,94.67 L437.65,94.01 L439.00,93.37 L440.37,92.75 L441.75,92.16 L443.14,91.59 L444.54,91.04 L445.95,90.51 L447.36,90.00 L448.79,89.52 L450.22,89.06 L451.65,88.62 L453.10,88.21 L454.55,87.81 L456.01,87.44 L457.47,87.09 L458.94,86.77 L460.41,86.46 L461.89,86.18 L463.37,85.92 L464.85,85.69 L466.34,85.48 L467.83,85.29 L469.33,85.12 L470.82,84.98 L472.32,84.86 L473.82,84.76 L475.32,84.68 L476.82,84.63 L478.32,84.60 L479.82,84.60 L481.32,84.62 L482.81,84.66 L484.31,84.72 L485.81,84.81 L487.30,84.92 L488.79,85.06 L490.27,85.22 L491.76,85.40 L493.24,85.60 L494.71,85.83 L496.18,86.09 L497.65,86.36 L499.11,86.66 L500.57,86.99 L502.01,87.34 L503.46,87.71 L504.89,88.10 L506.32,88.52 L507.74,88.97 L509.15,89.44 L510.55,89.93 L511.95,90.45 L513.33,90.99 L514.71,91.55 L516.07,92.14 L517.43,92.75 L518.78,93.39 L520.12,94.04 L521.44,94.72 L522.76,95.42 L524.07,96.13 L525.37,96.87 L526.66,97.63 L527.95,98.40 L529.22,99.20 L530.48,100.01 L531.74,100.83 L532.99,101.68 L534.22,102.54 L535.45,103.41 L536.67,104.30 L537.88,105.20 L539.08,106.12 L540.28,107.05 L541.46,107.99 L542.64,108.94 L543.80,109.91 L544.96,110.88 L546.11,111.87 L547.25,112.87 L548.39,113.87 L549.51,114.88 L550.63,115.90 L551.74,116.93 L552.84,117.97 L553.93,119.01 L555.01,120.06 L556.09,121.12 L557.16,122.19 L558.22,123.26 L559.27,124.34 L560.31,125.43 L561.35,126.53 L562.38,127.63 L563.40,128.74 L564.41,129.85 L565.42,130.98 L566.41,132.10 L567.40,133.24 L568.39,134.38 L569.36,135.52 L570.33,136.68 L571.29,137.84 L572.24,139.00 L573.18,140.17 L574.12,141.35 L575.05,142.53 L575.98,143.71 L576.89,144.90 L577.80,146.10 L578.70,147.30 L579.60,148.51 L580.48,149.72 L581.36,150.93 L582.24,152.16 L583.11,153.38 L583.97,154.61 L584.82,155.84 L585.67,157.08 L586.50,158.32 L587.34,159.57 L588.16,160.82 L588.98,162.08 L589.80,163.34 L590.60,164.60 L591.41,165.87 L592.20,167.14 L592.99,168.42 L593.77,169.69 L594.54,170.98 L595.31,172.26 L596.08,173.55 L596.83,174.85 L597.58,176.15 L598.33,177.45 L599.07,178.75 L599.80,180.06 L600.52,181.37 L601.24,182.68 L601.96,184.00 L602.67,185.32 L603.37,186.65 L604.07,187.97 L604.76,189.30 L605.45,190.64 L606.13,191.97 L606.80,193.31 L607.47,194.65 L608.14,195.99 L608.80,197.34 L609.45,198.69 L610.10,200.04 L610.74,201.40 L611.38,202.75 L612.01,204.11 L612.64,205.47 L613.26,206.84 L613.88,208.20 L614.49,209.57 L615.10,210.94 L615.70,212.31 L616.30,213.69 L616.89,215.06 L617.48,216.44 L618.06,217.82 L618.64,219.20 L619.21,220.59 L619.78,221.97 L620.35,223.36 L620.91,224.75 L621.46,226.14 L622.01,227.53 L622.56,228.93 L623.10,230.32 L623.64,231.72 L624.17,233.12 L624.70,234.52 L625.22,235.93 L625.74,237.33 L626.25,238.74 L626.77,240.15 L627.27,241.56 L627.77,242.97 L628.27,244.38 L628.77,245.80 L629.26,247.22 L629.74,248.63 L630.22,250.05 L630.70,251.48 L631.17,252.90 L631.64,254.32 L632.11,255.75 L632.57,257.18 L633.03,258.61 L633.48,260.04 L633.93,261.47 L634.38,262.91 L634.82,264.34 L635.26,265.78 L635.69,267.22 L636.12,268.66 L636.55,270.10 L636.97,271.54 L637.39,272.99 L637.81,274.43 L638.22,275.88 L638.63,277.33 L639.04,278.78 L639.44,280.23 L639.84,281.69 L640.23,283.14 L640.62,284.60 L641.01,286.05 L641.40,287.51 L641.78,288.97 L642.16,290.43 L642.53,291.89 L642.91,293.36 L643.28,294.82 L643.64,296.29 L644.00,297.76 L644.36,299.22 L644.72,300.69 L645.07,302.17 L645.42,303.64 L645.77,305.11 L646.12,306.58 L646.46,308.06 L646.81,309.53 L647.15,311.00 L647.49,312.47 L647.83,313.94 L648.17,315.41 L648.51,316.88 L648.85,318.35 L649.20,319.81 L649.54,321.27 L649.88,322.73 L650.23,324.18 L650.58,325.64 L650.93,327.08 L651.28,328.53 L651.64,329.97 L652.00,331.40 L652.36,332.83 L652.73,334.26 L653.11,335.68 L653.48,337.09 L653.86,338.50 L654.25,339.90 L654.65,341.30 L655.05,342.69 L655.45,344.07 L655.86,345.44 L656.28,346.81 L656.72,348.17 L657.17,349.52 L657.65,350.86 L658.17,352.19 L658.74,353.52 L659.35,354.83 L660.03,356.13 L660.77,357.43 L661.60,358.71 L662.50,359.99 L663.50,361.25 L664.60,362.50 L665.34,361.15 L666.07,359.79 L666.77,358.43 L667.45,357.07 L668.12,355.71 L668.77,354.34 L669.40,352.98 L670.02,351.61 L670.62,350.24 L671.21,348.86 L671.79,347.49 L672.35,346.11 L672.91,344.73 L673.45,343.35 L673.99,341.96 L674.52,340.58 L675.04,339.19 L675.56,337.80 L676.08,336.41 L676.59,335.01 L677.09,333.61 L677.60,332.21 L678.11,330.81 L678.61,329.41 L679.12,328.00 L679.63,326.59 L680.14,325.18 L680.66,323.77 L681.18,322.36 L681.71,320.94 L682.25,319.52 L682.79,318.11 L683.35,316.69 L683.91,315.28 L684.49,313.87 L685.07,312.46 L685.67,311.06 L686.29,309.66 L686.92,308.27 L687.56,306.89 L688.23,305.51 L688.91,304.14 L689.61,302.77 L690.33,301.42 L691.07,300.08 L691.83,298.75 L692.62,297.43 L693.43,296.12 L694.27,294.83 L695.13,293.55 L696.01,292.29 L696.93,291.06 L697.88,289.85 L698.85,288.66 L699.86,287.51 L700.89,286.39 L701.96,285.30 L703.06,284.25 L704.19,283.24 L705.34,282.27 L706.52,281.35 L707.73,280.47 L708.96,279.63 L710.22,278.85 L711.50,278.12 L712.80,277.45 L714.12,276.83 L715.47,276.27 L716.82,275.77 L718.20,275.33 L719.60,274.96 L721.00,274.66 L722.43,274.42 L723.86,274.26 L725.31,274.17 L726.77,274.16 L728.24,274.22 L729.71,274.37 L731.19,274.58 L732.67,274.87 L734.14,275.22 L735.60,275.64 L737.05,276.11 L738.48,276.65 L739.88,277.24 L741.26,277.88 L742.62,278.57 L743.93,279.31 L745.22,280.08 L746.46,280.91 L747.68,281.77 L748.86,282.67 L750.02,283.61 L751.14,284.58 L752.24,285.59 L753.30,286.63 L754.34,287.70 L755.35,288.80 L756.34,289.93 L757.30,291.09 L758.24,292.27 L759.16,293.48 L760.05,294.71 L760.92,295.96 L761.78,297.23 L762.61,298.51 L763.43,299.81 L764.23,301.13 L765.01,302.46 L765.78,303.80 L766.53,305.15 L767.27,306.51 L768.00,307.88 L768.71,309.25 L769.41,310.62 L770.11,312.00 L770.79,313.38 L771.47,314.76 L772.14,316.14 L772.80,317.52 L773.45,318.90 L774.09,320.29 L774.72,321.67 L775.34,323.06 L775.96,324.45 L776.57,325.83 L777.16,327.22 L777.75,328.62 L778.34,330.01 L778.91,331.40 L779.48,332.80 L780.04,334.19 L780.59,335.59 L781.13,336.99 L781.66,338.39 L782.19,339.79 L782.71,341.20 L783.22,342.60 L783.72,344.01 L784.22,345.42 L784.71,346.83 L785.19,348.24 L785.66,349.66 L786.13,351.07 L786.59,352.49 L787.04,353.91 L787.49,355.33 L787.93,356.75 L788.36,358.18 L788.79,359.61 L789.21,361.04 L789.62,362.47 L790.02,363.90 L790.42,365.34 L790.81,366.78 L791.20,368.22 L791.58,369.66 L791.95,371.10 L792.32,372.55 L792.68,374.00 L793.04,375.45 L793.39,376.91 L793.73,378.36 L794.07,379.82 L794.40,381.29 L794.72,382.75 L795.04,384.22 L795.36,385.69 L795.67,387.16 L795.97,388.63 L796.27,390.11 L796.56,391.59 L796.85,393.07 L797.13,394.56 L797.41,396.05 L797.68,397.54 L797.95,399.04 L798.21,400.53 L798.47,402.03 L798.72,403.53 L798.97,405.04 L799.22,406.54 L799.47,408.05 L799.71,409.55 L799.95,411.06 L800.19,412.57 L800.43,414.07 L800.66,415.58 L800.90,417.08 L801.14,418.59 L801.37,420.09 L801.61,421.60 L801.84,423.10 L802.08,424.59 L802.32,426.09 L802.56,427.58 L802.81,429.07 L803.05,430.56 L803.30,432.04 L803.55,433.52 L803.81,435.00 L804.07,436.47 L804.33,437.93 L804.60,439.39 L804.87,440.85 L805.15,442.30 L805.44,443.74 L805.73,445.18 L806.03,446.61 L806.33,448.04 L806.66,449.45 L807.01,450.86 L807.38,452.26 L807.78,453.66 L808.23,455.05 L808.72,456.42 L809.25,457.79 L809.85,459.15 L810.50,460.50 L811.41,459.18 L812.24,457.85 L813.00,456.50 L813.69,455.15 L814.31,453.78 L814.88,452.41 L815.39,451.03 L815.86,449.63 L816.28,448.23 L816.67,446.82 L817.03,445.40 L817.36,443.98 L817.67,442.55 L817.97,441.11 L818.26,439.66 L818.54,438.21 L818.82,436.75 L819.09,435.29 L819.36,433.82 L819.63,432.34 L819.89,430.86 L820.15,429.38 L820.42,427.90 L820.68,426.41 L820.95,424.91 L821.21,423.42 L821.48,421.92 L821.75,420.42 L822.03,418.92 L822.31,417.42 L822.60,415.92 L822.89,414.42 L823.19,412.92 L823.50,411.41 L823.82,409.91 L824.15,408.41 L824.48,406.91 L824.82,405.42 L825.18,403.92 L825.54,402.43 L825.91,400.94 L826.29,399.45 L826.68,397.97 L827.08,396.49 L827.48,395.02 L827.90,393.55 L828.32,392.08 L828.76,390.63 L829.20,389.17 L829.66,387.73 L830.12,386.29 L830.59,384.85 L831.07,383.43 L831.56,382.01 L832.06,380.60 L832.57,379.19 L833.10,377.80 L833.64,376.42 L834.20,375.04 L834.77,373.68 L835.37,372.32 L835.99,370.98 L836.63,369.64 L837.31,368.32 L838.01,367.01 L838.75,365.71 L839.51,364.43 L840.32,363.15 L841.16,361.89 L842.04,360.65 L842.96,359.41 L843.93,358.19 L844.94,356.99 L846.00,355.80" fill="none" stroke="#f20000" stroke-width="2.7" stroke-linejoin="round" stroke-linecap="round" stroke-dasharray="12.3 17.2" stroke-dashoffset="0.00"/>
<path d="M1017.90,286.00 L1018.92,287.15 L1019.92,288.32 L1020.90,289.50 L1021.85,290.69 L1022.78,291.89 L1023.69,293.10 L1024.58,294.32 L1025.45,295.56 L1026.30,296.80 L1027.12,298.05 L1027.93,299.32 L1028.72,300.59 L1029.49,301.87 L1030.24,303.16 L1030.97,304.46 L1031.68,305.77 L1032.38,307.09 L1033.05,308.42 L1033.72,309.75 L1034.36,311.10 L1034.99,312.45 L1035.60,313.80 L1036.20,315.17 L1036.78,316.54 L1037.35,317.92 L1037.90,319.31 L1038.44,320.71 L1038.97,322.11 L1039.48,323.51 L1039.98,324.92 L1040.47,326.34 L1040.94,327.77 L1041.41,329.20 L1041.86,330.63 L1042.30,332.07 L1042.73,333.51 L1043.15,334.96 L1043.56,336.42 L1043.96,337.87 L1044.35,339.34 L1044.73,340.80 L1045.10,342.27 L1045.47,343.74 L1045.82,345.22 L1046.17,346.70 L1046.52,348.18 L1046.85,349.66 L1047.18,351.15 L1047.51,352.63 L1047.82,354.13 L1048.14,355.62 L1048.44,357.11 L1048.75,358.61 L1049.05,360.10 L1049.34,361.60 L1049.63,363.10 L1049.92,364.59 L1050.21,366.09 L1050.49,367.59 L1050.77,369.09 L1051.06,370.59 L1051.33,372.09 L1051.61,373.58 L1051.89,375.08 L1052.17,376.57 L1052.45,378.07 L1052.72,379.56 L1053.00,381.05 L1053.28,382.54 L1053.57,384.03 L1053.85,385.51 L1054.14,386.99 L1054.43,388.47 L1054.72,389.95 L1055.02,391.42 L1055.32,392.89 L1055.62,394.35 L1055.93,395.82 L1056.24,397.28 L1056.56,398.73 L1056.89,400.18 L1057.22,401.62 L1057.56,403.06 L1057.90,404.50 L1058.45,403.11 L1058.98,401.71 L1059.49,400.31 L1059.99,398.90 L1060.48,397.48 L1060.94,396.06 L1061.40,394.64 L1061.84,393.21 L1062.27,391.78 L1062.69,390.34 L1063.09,388.90 L1063.48,387.45 L1063.86,386.00 L1064.23,384.55 L1064.59,383.09 L1064.94,381.63 L1065.28,380.16 L1065.61,378.70 L1065.93,377.23 L1066.25,375.76 L1066.55,374.28 L1066.85,372.81 L1067.14,371.33 L1067.43,369.85 L1067.71,368.36 L1067.99,366.88 L1068.26,365.40 L1068.52,363.91 L1068.79,362.42 L1069.04,360.94 L1069.30,359.45 L1069.55,357.96 L1069.81,356.47 L1070.06,354.98 L1070.31,353.49 L1070.55,352.00 L1070.80,350.51 L1071.05,349.02 L1071.30,347.53 L1071.55,346.04 L1071.80,344.56 L1072.06,343.07 L1072.32,341.58 L1072.58,340.10 L1072.84,338.62 L1073.11,337.14 L1073.38,335.66 L1073.66,334.18 L1073.94,332.70 L1074.23,331.23 L1074.53,329.76 L1074.83,328.29 L1075.14,326.83 L1075.46,325.36 L1075.78,323.90 L1076.12,322.45 L1076.46,320.99 L1076.81,319.54 L1077.18,318.10 L1077.55,316.65 L1077.93,315.21 L1078.33,313.78 L1078.73,312.35 L1079.15,310.92 L1079.57,309.49 L1080.01,308.07 L1080.45,306.65 L1080.91,305.23 L1081.38,303.82 L1081.86,302.41 L1082.34,301.01 L1082.84,299.60 L1083.35,298.20 L1083.87,296.80 L1084.40,295.41 L1084.94,294.02 L1085.49,292.63 L1086.05,291.24 L1086.62,289.86 L1087.20,288.47 L1087.79,287.10 L1088.39,285.72 L1089.01,284.34 L1089.63,282.97 L1090.26,281.60 L1090.91,280.24 L1091.56,278.87 L1092.23,277.51 L1092.90,276.15 L1093.59,274.79 L1094.29,273.43 L1094.99,272.08 L1095.71,270.73 L1096.44,269.38 L1097.18,268.03 L1097.93,266.68 L1098.69,265.33 L1099.46,263.99 L1100.24,262.65 L1101.03,261.31 L1101.84,259.98 L1102.66,258.65 L1103.50,257.34 L1104.36,256.05 L1105.23,254.77 L1106.13,253.52 L1107.06,252.30 L1108.01,251.11 L1108.99,249.95 L1110.01,248.83 L1111.05,247.75 L1112.13,246.71 L1113.25,245.72 L1114.41,244.78 L1115.60,243.90 L1116.84,243.08 L1118.12,242.32 L1119.46,241.62 L1120.83,240.99 L1122.25,240.44 L1123.71,239.95 L1125.19,239.55 L1126.67,239.24 L1128.17,239.00 L1129.65,238.86 L1131.11,238.81 L1132.55,238.86 L1133.96,239.00 L1135.33,239.24 L1136.67,239.56 L1137.98,239.97 L1139.26,240.46 L1140.51,241.03 L1141.73,241.67 L1142.92,242.39 L1144.08,243.17 L1145.22,244.02 L1146.32,244.93 L1147.40,245.89 L1148.45,246.91 L1149.48,247.98 L1150.48,249.09 L1151.45,250.25 L1152.40,251.45 L1153.32,252.68 L1154.22,253.95 L1155.09,255.24 L1155.94,256.55 L1156.77,257.88 L1157.57,259.23 L1158.36,260.59 L1159.12,261.95 L1159.86,263.32 L1160.58,264.70 L1161.27,266.08 L1161.95,267.46 L1162.61,268.85 L1163.25,270.25 L1163.87,271.65 L1164.47,273.05 L1165.06,274.45 L1165.62,275.86 L1166.17,277.28 L1166.71,278.70 L1167.23,280.12 L1167.73,281.54 L1168.21,282.97 L1168.69,284.40 L1169.14,285.84 L1169.59,287.28 L1170.02,288.72 L1170.43,290.16 L1170.84,291.61 L1171.23,293.06 L1171.61,294.51 L1171.98,295.96 L1172.34,297.42 L1172.68,298.88 L1173.02,300.34 L1173.35,301.80 L1173.67,303.27 L1173.98,304.73 L1174.28,306.20 L1174.58,307.67 L1174.86,309.14 L1175.14,310.62 L1175.42,312.09 L1175.68,313.56 L1175.94,315.04 L1176.20,316.52 L1176.45,317.99 L1176.69,319.47 L1176.93,320.95 L1177.17,322.43 L1177.40,323.91 L1177.62,325.40 L1177.84,326.88 L1178.06,328.36 L1178.27,329.85 L1178.47,331.34 L1178.68,332.82 L1178.87,334.31 L1179.07,335.80 L1179.26,337.29 L1179.45,338.77 L1179.63,340.26 L1179.82,341.75 L1179.99,343.25 L1180.17,344.74 L1180.34,346.23 L1180.51,347.72 L1180.68,349.21 L1180.85,350.71 L1181.02,352.20 L1181.18,353.69 L1181.34,355.19 L1181.50,356.68 L1181.66,358.18 L1181.82,359.67 L1181.97,361.17 L1182.13,362.66 L1182.29,364.16 L1182.44,365.65 L1182.60,367.15 L1182.75,368.65 L1182.91,370.14 L1183.06,371.64 L1183.22,373.13 L1183.37,374.63 L1183.53,376.13 L1183.68,377.62 L1183.84,379.12 L1184.00,380.61 L1184.16,382.11 L1184.33,383.60 L1184.49,385.10 L1184.66,386.59 L1184.82,388.08 L1184.99,389.58 L1185.17,391.07 L1185.34,392.56 L1185.52,394.06 L1185.70,395.55 L1185.88,397.04 L1186.07,398.53 L1186.26,400.02 L1186.45,401.51 L1186.64,403.00 L1186.84,404.49 L1187.05,405.98 L1187.26,407.47 L1187.47,408.95 L1187.69,410.44 L1187.91,411.93 L1188.13,413.41 L1188.37,414.89 L1188.60,416.38 L1188.84,417.86 L1189.09,419.34 L1189.34,420.82 L1189.60,422.30 L1189.84,420.84 L1190.07,419.37 L1190.29,417.91 L1190.50,416.44 L1190.71,414.97 L1190.90,413.51 L1191.09,412.03 L1191.27,410.56 L1191.44,409.09 L1191.61,407.61 L1191.77,406.14 L1191.92,404.66 L1192.06,403.18 L1192.20,401.70 L1192.33,400.22 L1192.46,398.73 L1192.59,397.25 L1192.70,395.77 L1192.82,394.28 L1192.93,392.79 L1193.03,391.30 L1193.13,389.82 L1193.23,388.33 L1193.33,386.83 L1193.42,385.34 L1193.51,383.85 L1193.60,382.36 L1193.69,380.86 L1193.77,379.37 L1193.85,377.87 L1193.94,376.37 L1194.02,374.88 L1194.10,373.38 L1194.18,371.88 L1194.27,370.38 L1194.35,368.88 L1194.43,367.38 L1194.52,365.88 L1194.60,364.38 L1194.69,362.88 L1194.78,361.37 L1194.87,359.87 L1194.96,358.37 L1195.06,356.87 L1195.16,355.36 L1195.27,353.86 L1195.37,352.36 L1195.49,350.85 L1195.60,349.35 L1195.72,347.84 L1195.85,346.34 L1195.98,344.84 L1196.12,343.33 L1196.26,341.83 L1196.40,340.32 L1196.55,338.82 L1196.71,337.31 L1196.87,335.81 L1197.03,334.31 L1197.20,332.80 L1197.37,331.30 L1197.55,329.80 L1197.73,328.29 L1197.91,326.79 L1198.10,325.29 L1198.29,323.79 L1198.49,322.29 L1198.69,320.79 L1198.89,319.29 L1199.10,317.79 L1199.31,316.29 L1199.53,314.79 L1199.75,313.29 L1199.97,311.79 L1200.20,310.30 L1200.43,308.80 L1200.66,307.30 L1200.90,305.81 L1201.14,304.32 L1201.38,302.82 L1201.63,301.33 L1201.88,299.84 L1202.13,298.35 L1202.38,296.86 L1202.64,295.37 L1202.90,293.88 L1203.16,292.40 L1203.43,290.91 L1203.70,289.43 L1203.97,287.95 L1204.25,286.46 L1204.52,284.98 L1204.80,283.50 L1205.08,282.03 L1205.37,280.55 L1205.65,279.07 L1205.94,277.60 L1206.24,276.13 L1206.53,274.66 L1206.83,273.19 L1207.14,271.72 L1207.45,270.25 L1207.76,268.79 L1208.07,267.32 L1208.39,265.86 L1208.72,264.40 L1209.04,262.94 L1209.38,261.49 L1209.72,260.03 L1210.06,258.58 L1210.41,257.13 L1210.76,255.68 L1211.12,254.23 L1211.48,252.78 L1211.85,251.34 L1212.23,249.90 L1212.61,248.45 L1213.00,247.02 L1213.39,245.58 L1213.79,244.15 L1214.19,242.71 L1214.61,241.29 L1215.03,239.86 L1215.45,238.43 L1215.89,237.01 L1216.33,235.59 L1216.77,234.17 L1217.23,232.75 L1217.69,231.34 L1218.16,229.93 L1218.64,228.52 L1219.13,227.11 L1219.62,225.71 L1220.13,224.31 L1220.64,222.91 L1221.16,221.51 L1221.69,220.12 L1222.22,218.73 L1222.77,217.34 L1223.33,215.95 L1223.89,214.57 L1224.47,213.19 L1225.05,211.81 L1225.64,210.44 L1226.25,209.07 L1226.86,207.70 L1227.48,206.33 L1228.12,204.97 L1228.76,203.61 L1229.42,202.25 L1230.08,200.90 L1230.76,199.55 L1231.45,198.20 L1232.15,196.86 L1232.86,195.52 L1233.58,194.18 L1234.31,192.86 L1235.05,191.53 L1235.80,190.21 L1236.56,188.90 L1237.34,187.59 L1238.13,186.29 L1238.92,185.00 L1239.73,183.71 L1240.55,182.44 L1241.38,181.16 L1242.22,179.90 L1243.07,178.65 L1243.94,177.40 L1244.81,176.16 L1245.70,174.94 L1246.60,173.72 L1247.51,172.51 L1248.43,171.31 L1249.36,170.13 L1250.31,168.95 L1251.26,167.79 L1252.23,166.64 L1253.21,165.49 L1254.20,164.37 L1255.20,163.25 L1256.21,162.15 L1257.23,161.06 L1258.27,159.98 L1259.32,158.92 L1260.38,157.87 L1261.45,156.84 L1262.53,155.82 L1263.63,154.81 L1264.74,153.82 L1265.85,152.85 L1266.99,151.90 L1268.13,150.96 L1269.28,150.03 L1270.45,149.13 L1271.63,148.24 L1272.82,147.37 L1274.02,146.51 L1275.24,145.68 L1276.46,144.86 L1277.70,144.06 L1278.95,143.29 L1280.22,142.53 L1281.49,141.79 L1282.78,141.06 L1284.07,140.36 L1285.38,139.67 L1286.70,139.01 L1288.02,138.35 L1289.36,137.72 L1290.71,137.10 L1292.06,136.50 L1293.43,135.92 L1294.80,135.35 L1296.18,134.80 L1297.57,134.27 L1298.97,133.75 L1300.38,133.24 L1301.79,132.75 L1303.21,132.28 L1304.63,131.82 L1306.07,131.38 L1307.51,130.94 L1308.95,130.53 L1310.40,130.13 L1311.86,129.74 L1313.32,129.36 L1314.78,129.00 L1316.25,128.65 L1317.72,128.31 L1319.20,127.98 L1320.68,127.67 L1322.17,127.37 L1323.65,127.08 L1325.14,126.80 L1326.63,126.54 L1328.13,126.28 L1329.63,126.03 L1331.12,125.80 L1332.62,125.58 L1334.12,125.36 L1335.62,125.16 L1337.12,124.96 L1338.63,124.78 L1340.13,124.60 L1341.63,124.44 L1343.13,124.28 L1344.63,124.13 L1346.13,123.99 L1347.63,123.85 L1349.13,123.73 L1350.63,123.61 L1352.13,123.50 L1353.63,123.39 L1355.13,123.30 L1356.63,123.21 L1358.13,123.12 L1359.63,123.04 L1361.13,122.97 L1362.63,122.91 L1364.13,122.85 L1365.63,122.79 L1367.14,122.74 L1368.64,122.69 L1370.14,122.65 L1371.64,122.62 L1373.15,122.58 L1374.65,122.55 L1376.15,122.53 L1377.66,122.51 L1379.16,122.49 L1380.67,122.47 L1382.18,122.46 L1383.69,122.45 L1385.19,122.44 L1386.70,122.43 L1388.21,122.43 L1389.72,122.43 L1391.23,122.43 L1392.75,122.44 L1394.26,122.45 L1395.77,122.46 L1397.28,122.48 L1398.79,122.50 L1400.31,122.53 L1401.82,122.56 L1403.33,122.59 L1404.84,122.64 L1406.35,122.68 L1407.86,122.74 L1409.37,122.80 L1410.88,122.86 L1412.39,122.94 L1413.90,123.02 L1415.41,123.11 L1416.91,123.20 L1418.42,123.31 L1419.92,123.42 L1421.42,123.54 L1422.92,123.67 L1424.42,123.81 L1425.92,123.95 L1427.42,124.11 L1428.91,124.28 L1430.41,124.45 L1431.90,124.64 L1433.39,124.84 L1434.87,125.05 L1436.36,125.27 L1437.84,125.50 L1439.32,125.74 L1440.80,126.00 L1442.28,126.26 L1443.75,126.54 L1445.22,126.84 L1446.69,127.14 L1448.15,127.46 L1449.62,127.79 L1451.08,128.14 L1452.53,128.50 L1453.99,128.87 L1455.43,129.26 L1456.88,129.67 L1458.32,130.08 L1459.76,130.52 L1461.19,130.96 L1462.62,131.43 L1464.05,131.90 L1465.46,132.39 L1466.88,132.90 L1468.28,133.42 L1469.68,133.96 L1471.08,134.51 L1472.47,135.07 L1473.85,135.65 L1475.22,136.25 L1476.59,136.85 L1477.95,137.48 L1479.30,138.12 L1480.64,138.77 L1481.98,139.44 L1483.31,140.12 L1484.62,140.82 L1485.93,141.54 L1487.23,142.27 L1488.52,143.01 L1489.80,143.77 L1491.06,144.55 L1492.32,145.33 L1493.57,146.14 L1494.81,146.96 L1496.03,147.80 L1497.24,148.65 L1498.45,149.51 L1499.64,150.39 L1500.81,151.29 L1501.98,152.20 L1503.13,153.13 L1504.27,154.07 L1505.39,155.03 L1506.50,156.00 L1507.60,156.99 L1508.68,158.00 L1509.75,159.02 L1510.81,160.05 L1511.85,161.10 L1512.87,162.17 L1513.89,163.24 L1514.89,164.33 L1515.88,165.44 L1516.85,166.56 L1517.81,167.69 L1518.76,168.83 L1519.70,169.99 L1520.62,171.15 L1521.53,172.33 L1522.43,173.52 L1523.31,174.73 L1524.19,175.94 L1525.05,177.16 L1525.90,178.39 L1526.74,179.64 L1527.57,180.89 L1528.38,182.15 L1529.18,183.42 L1529.98,184.70 L1530.76,185.99 L1531.53,187.29 L1532.29,188.59 L1533.04,189.90 L1533.78,191.22 L1534.50,192.55 L1535.22,193.88 L1535.93,195.22 L1536.63,196.56 L1537.32,197.91 L1537.99,199.27 L1538.66,200.63 L1539.32,202.00 L1539.97,203.37 L1540.61,204.74 L1541.24,206.12 L1541.86,207.50 L1542.47,208.89 L1543.08,210.28 L1543.67,211.67 L1544.26,213.07 L1544.84,214.46 L1545.41,215.86 L1545.97,217.27 L1546.52,218.67 L1547.07,220.08 L1547.61,221.49 L1548.14,222.90 L1548.66,224.31 L1549.17,225.73 L1549.68,227.14 L1550.18,228.56 L1550.67,229.99 L1551.15,231.41 L1551.63,232.84 L1552.10,234.27 L1552.56,235.70 L1553.02,237.13 L1553.46,238.56 L1553.90,240.00 L1554.34,241.44 L1554.77,242.87 L1555.19,244.32 L1555.60,245.76 L1556.01,247.20 L1556.41,248.65 L1556.80,250.10 L1557.19,251.55 L1557.58,253.00 L1557.95,254.45 L1558.32,255.90 L1558.69,257.36 L1559.05,258.82 L1559.40,260.28 L1559.75,261.73 L1560.09,263.20 L1560.42,264.66 L1560.76,266.12 L1561.08,267.59 L1561.40,269.05 L1561.72,270.52 L1562.03,271.99 L1562.33,273.46 L1562.63,274.93 L1562.93,276.40 L1563.22,277.87 L1563.50,279.34 L1563.78,280.82 L1564.06,282.29 L1564.33,283.77 L1564.60,285.24 L1564.87,286.72 L1565.13,288.20 L1565.38,289.68 L1565.63,291.15 L1565.88,292.63 L1566.12,294.11 L1566.37,295.60 L1566.60,297.08 L1566.83,298.56 L1567.06,300.04 L1567.29,301.52 L1567.51,303.01 L1567.73,304.49 L1567.95,305.97 L1568.16,307.46 L1568.37,308.94 L1568.58,310.43 L1568.78,311.91 L1568.98,313.40 L1569.18,314.88 L1569.38,316.37 L1569.57,317.86 L1569.76,319.34 L1569.94,320.83 L1570.13,322.32 L1570.31,323.81 L1570.48,325.29 L1570.66,326.78 L1570.83,328.27 L1571.00,329.76 L1571.17,331.25 L1571.33,332.74 L1571.50,334.23 L1571.66,335.72 L1571.81,337.21 L1571.97,338.70 L1572.12,340.19 L1572.27,341.68 L1572.42,343.17 L1572.56,344.66 L1572.71,346.15 L1572.85,347.64 L1572.99,349.13 L1573.13,350.63 L1573.26,352.12 L1573.39,353.61 L1573.53,355.10 L1573.65,356.59 L1573.78,358.09 L1573.91,359.58 L1574.03,361.07 L1574.15,362.57 L1574.27,364.06 L1574.39,365.55 L1574.51,367.04 L1574.62,368.54 L1574.74,370.03 L1574.85,371.52 L1574.96,373.02 L1575.07,374.51 L1575.18,376.01 L1575.28,377.50 L1575.39,378.99 L1575.49,380.49 L1575.59,381.98 L1575.70,383.47 L1575.80,384.97 L1575.90,386.46 L1576.00,387.96 L1576.10,389.45 L1576.21,390.94 L1576.31,392.44 L1576.42,393.93 L1576.53,395.42 L1576.64,396.92 L1576.75,398.41 L1576.87,399.91 L1576.99,401.40 L1577.12,402.89 L1577.25,404.39 L1577.38,405.88 L1577.52,407.37 L1577.67,408.87 L1577.82,410.36 L1577.98,411.85 L1578.15,413.34 L1578.32,414.84 L1578.50,416.33 L1578.69,417.82 L1578.88,419.32 L1579.09,420.81 L1579.30,422.30 L1579.56,420.81 L1579.81,419.32 L1580.05,417.82 L1580.29,416.33 L1580.52,414.84 L1580.75,413.35 L1580.97,411.86 L1581.19,410.36 L1581.41,408.87 L1581.62,407.38 L1581.82,405.89 L1582.03,404.39 L1582.22,402.90 L1582.42,401.41 L1582.61,399.92 L1582.80,398.43 L1582.98,396.93 L1583.16,395.44 L1583.34,393.95 L1583.52,392.46 L1583.69,390.97 L1583.86,389.48 L1584.03,387.98 L1584.20,386.49 L1584.36,385.00 L1584.52,383.51 L1584.69,382.02 L1584.85,380.53 L1585.00,379.04 L1585.16,377.55 L1585.32,376.06 L1585.48,374.57 L1585.63,373.08 L1585.79,371.59 L1585.94,370.10 L1586.10,368.61 L1586.25,367.12 L1586.41,365.63 L1586.56,364.14 L1586.72,362.65 L1586.88,361.16 L1587.04,359.68 L1587.20,358.19 L1587.36,356.70 L1587.52,355.21 L1587.68,353.73 L1587.85,352.24 L1588.02,350.75 L1588.19,349.27 L1588.36,347.78 L1588.53,346.29 L1588.71,344.81 L1588.89,343.32 L1589.07,341.84 L1589.26,340.35 L1589.45,338.87 L1589.64,337.39 L1589.84,335.90 L1590.04,334.42 L1590.24,332.94 L1590.45,331.45 L1590.66,329.97 L1590.88,328.49 L1591.10,327.01 L1591.33,325.53 L1591.56,324.05 L1591.80,322.57 L1592.04,321.09 L1592.29,319.61 L1592.54,318.13 L1592.80,316.65 L1593.06,315.17 L1593.33,313.69 L1593.61,312.22 L1593.89,310.74 L1594.18,309.26 L1594.48,307.79 L1594.78,306.31 L1595.09,304.84 L1595.41,303.36 L1595.74,301.89 L1596.07,300.42 L1596.41,298.94 L1596.76,297.47 L1597.12,296.00 L1597.48,294.53 L1597.86,293.06 L1598.24,291.59 L1598.63,290.12 L1599.03,288.65 L1599.44,287.18 L1599.86,285.72 L1600.30,284.26 L1600.74,282.80 L1601.20,281.35 L1601.68,279.90 L1602.16,278.45 L1602.67,277.02 L1603.19,275.59 L1603.72,274.17 L1604.28,272.75 L1604.85,271.35 L1605.45,269.95 L1606.06,268.57 L1606.70,267.20 L1607.35,265.83 L1608.03,264.48 L1608.73,263.15 L1609.46,261.82 L1610.21,260.51 L1610.99,259.22 L1611.79,257.94 L1612.62,256.68 L1613.48,255.43 L1614.37,254.20 L1615.28,252.99 L1616.23,251.80 L1617.21,250.63 L1618.22,249.48 L1619.26,248.35 L1620.33,247.25 L1621.44,246.19 L1622.57,245.17 L1623.74,244.20 L1624.94,243.28 L1626.17,242.43 L1627.42,241.64 L1628.71,240.93 L1630.02,240.30 L1631.36,239.76 L1632.72,239.31 L1634.09,238.96 L1635.48,238.72 L1636.87,238.59 L1638.28,238.59 L1639.68,238.70 L1641.08,238.92 L1642.48,239.24 L1643.86,239.65 L1645.23,240.14 L1646.58,240.71 L1647.90,241.34 L1649.20,242.02 L1650.47,242.74 L1651.71,243.51 L1652.92,244.33 L1654.10,245.18 L1655.25,246.08 L1656.37,247.01 L1657.47,247.98 L1658.55,248.99 L1659.59,250.03 L1660.62,251.11 L1661.61,252.22 L1662.59,253.35 L1663.54,254.52 L1664.47,255.71 L1665.38,256.93 L1666.26,258.17 L1667.13,259.44 L1667.98,260.72 L1668.80,262.03 L1669.61,263.35 L1670.40,264.70 L1671.18,266.05 L1671.93,267.42 L1672.67,268.81 L1673.40,270.20 L1674.10,271.61 L1674.80,273.02 L1675.48,274.44 L1676.15,275.87 L1676.80,277.30 L1677.45,278.73 L1678.08,280.16 L1678.70,281.60 L1679.31,283.03 L1679.91,284.45 L1680.51,285.88 L1681.09,287.30 L1681.66,288.72 L1682.23,290.13 L1682.78,291.54 L1683.33,292.95 L1683.87,294.36 L1684.40,295.77 L1684.92,297.17 L1685.43,298.58 L1685.93,299.98 L1686.42,301.38 L1686.91,302.78 L1687.38,304.18 L1687.85,305.58 L1688.31,306.99 L1688.75,308.39 L1689.19,309.79 L1689.63,311.19 L1690.05,312.60 L1690.46,314.01 L1690.87,315.41 L1691.27,316.82 L1691.66,318.24 L1692.04,319.65 L1692.41,321.07 L1692.77,322.49 L1693.13,323.91 L1693.48,325.34 L1693.82,326.77 L1694.15,328.21 L1694.47,329.65 L1694.79,331.09 L1695.09,332.54 L1695.39,333.99 L1695.68,335.45 L1695.97,336.92 L1696.24,338.39 L1696.51,339.86 L1696.77,341.34 L1697.03,342.82 L1697.29,344.31 L1697.54,345.80 L1697.78,347.29 L1698.03,348.78 L1698.27,350.28 L1698.50,351.78 L1698.74,353.28 L1698.98,354.79 L1699.22,356.29 L1699.46,357.79 L1699.69,359.30 L1699.94,360.81 L1700.18,362.31 L1700.43,363.82 L1700.68,365.32 L1700.93,366.82 L1701.19,368.33 L1701.46,369.83 L1701.73,371.33 L1702.00,372.82 L1702.29,374.31 L1702.58,375.80 L1702.88,377.29 L1703.19,378.77 L1703.51,380.25 L1703.84,381.73 L1704.18,383.20 L1704.53,384.67 L1704.90,386.13 L1705.28,387.58 L1705.67,389.03 L1706.07,390.47 L1706.49,391.91 L1706.92,393.34 L1707.37,394.76 L1707.84,396.18 L1708.32,397.59 L1708.82,398.99 L1709.33,400.38 L1709.87,401.76 L1710.42,403.14 L1711.00,404.50 L1711.34,403.06 L1711.68,401.62 L1712.01,400.18 L1712.34,398.73 L1712.66,397.28 L1712.97,395.82 L1713.28,394.35 L1713.58,392.89 L1713.88,391.42 L1714.18,389.95 L1714.47,388.47 L1714.76,386.99 L1715.05,385.51 L1715.33,384.03 L1715.62,382.54 L1715.90,381.05 L1716.18,379.56 L1716.45,378.07 L1716.73,376.57 L1717.01,375.08 L1717.29,373.58 L1717.57,372.09 L1717.84,370.59 L1718.13,369.09 L1718.41,367.59 L1718.69,366.09 L1718.98,364.59 L1719.27,363.10 L1719.56,361.60 L1719.85,360.10 L1720.15,358.61 L1720.46,357.11 L1720.76,355.62 L1721.08,354.13 L1721.39,352.63 L1721.72,351.15 L1722.05,349.66 L1722.38,348.18 L1722.73,346.70 L1723.08,345.22 L1723.43,343.74 L1723.80,342.27 L1724.17,340.80 L1724.55,339.34 L1724.94,337.87 L1725.34,336.42 L1725.75,334.96 L1726.17,333.51 L1726.60,332.07 L1727.04,330.63 L1727.49,329.20 L1727.96,327.77 L1728.43,326.34 L1728.92,324.92 L1729.42,323.51 L1729.93,322.11 L1730.46,320.71 L1731.00,319.31 L1731.55,317.92 L1732.12,316.54 L1732.70,315.17 L1733.30,313.80 L1733.91,312.45 L1734.54,311.10 L1735.18,309.75 L1735.85,308.42 L1736.52,307.09 L1737.22,305.77 L1737.93,304.46 L1738.66,303.16 L1739.41,301.87 L1740.18,300.59 L1740.97,299.32 L1741.78,298.05 L1742.60,296.80 L1743.45,295.56 L1744.32,294.32 L1745.21,293.10 L1746.12,291.89 L1747.05,290.69 L1748.00,289.50 L1748.98,288.32 L1749.98,287.15 L1751.00,286.00" fill="none" stroke="#000" stroke-width="2.6" stroke-linejoin="round" stroke-linecap="butt"/>
<path d="M1017.90,339.30 L1019.38,339.62 L1020.85,339.98 L1022.31,340.36 L1023.76,340.77 L1025.19,341.21 L1026.62,341.68 L1028.03,342.17 L1029.44,342.70 L1030.83,343.24 L1032.22,343.82 L1033.59,344.42 L1034.95,345.04 L1036.31,345.68 L1037.65,346.35 L1038.98,347.04 L1040.30,347.75 L1041.62,348.49 L1042.92,349.24 L1044.21,350.01 L1045.49,350.80 L1046.76,351.61 L1048.03,352.44 L1049.28,353.29 L1050.52,354.15 L1051.75,355.03 L1052.98,355.92 L1054.19,356.83 L1055.40,357.75 L1056.59,358.68 L1057.78,359.63 L1058.95,360.59 L1060.12,361.56 L1061.28,362.54 L1062.43,363.53 L1063.57,364.53 L1064.70,365.54 L1065.82,366.56 L1066.93,367.59 L1068.03,368.62 L1069.13,369.66 L1070.22,370.71 L1071.29,371.76 L1072.36,372.81 L1073.42,373.87 L1074.48,374.93 L1075.52,376.00 L1076.55,377.06 L1077.58,378.13 L1078.60,379.20" fill="none" stroke="#0000f2" stroke-width="2.7" stroke-linejoin="round" stroke-linecap="round" stroke-dasharray="14.3 10.8 1.2 10.8" stroke-dashoffset="0.00"/>
<path d="M1078.60,379.20 L1079.87,380.07 L1081.05,381.01 L1082.14,382.02 L1083.16,383.09 L1084.11,384.22 L1085.01,385.40 L1085.86,386.61 L1086.67,387.87 L1087.45,389.16 L1088.22,390.47 L1088.98,391.80 L1089.73,393.15 L1090.50,394.50 L1091.29,395.85 L1092.10,397.20 L1092.96,398.54 L1093.86,399.87 L1094.82,401.17 L1095.84,402.44 L1096.92,403.65 L1098.04,404.78 L1099.21,405.82 L1100.41,406.73 L1101.65,407.50 L1102.90,408.10 L1104.17,408.51 L1105.44,408.70 L1106.72,408.68 L1107.97,408.46 L1109.20,408.06 L1110.39,407.50 L1111.52,406.79 L1112.59,405.96 L1113.59,405.02 L1114.52,403.98 L1115.39,402.84 L1116.21,401.62 L1116.98,400.33 L1117.71,398.98 L1118.40,397.58 L1119.05,396.13 L1119.68,394.66 L1120.28,393.16 L1120.87,391.65 L1121.44,390.14 L1122.01,388.64 L1122.57,387.14 L1123.13,385.66 L1123.68,384.19 L1124.23,382.72 L1124.77,381.27 L1125.31,379.82 L1125.85,378.38 L1126.38,376.95 L1126.91,375.53 L1127.44,374.11 L1127.97,372.70 L1128.50,371.29 L1129.03,369.89 L1129.55,368.50 L1130.08,367.11 L1130.61,365.73 L1131.14,364.35 L1131.66,362.97 L1132.20,361.60 L1132.73,360.23 L1133.27,358.86 L1133.80,357.49 L1134.35,356.13 L1134.89,354.76 L1135.44,353.40 L1136.00,352.04 L1136.56,350.68 L1137.12,349.32 L1137.70,347.95 L1138.27,346.59 L1138.86,345.23 L1139.45,343.86 L1140.05,342.49 L1140.66,341.12 L1141.27,339.76 L1141.90,338.39 L1142.53,337.02 L1143.17,335.66 L1143.83,334.30 L1144.49,332.94 L1145.17,331.58 L1145.85,330.23 L1146.55,328.89 L1147.26,327.54 L1147.98,326.21 L1148.71,324.88 L1149.46,323.56 L1150.22,322.24 L1151.00,320.94 L1151.79,319.64 L1152.60,318.35 L1153.42,317.07 L1154.25,315.81 L1155.10,314.55 L1155.97,313.30 L1156.86,312.07 L1157.76,310.85 L1158.68,309.64 L1159.62,308.45 L1160.58,307.27 L1161.56,306.11 L1162.55,304.96 L1163.57,303.83 L1164.61,302.71 L1165.66,301.62 L1166.74,300.54 L1167.84,299.48 L1168.97,298.47 L1170.14,297.49 L1171.33,296.57 L1172.57,295.71 L1173.84,294.92 L1175.17,294.21 L1176.54,293.59 L1177.96,293.06 L1179.41,292.65 L1180.88,292.35 L1182.35,292.17 L1183.81,292.13 L1185.25,292.23 L1186.65,292.49 L1188.00,292.90 L1189.31,293.44 L1190.56,294.12 L1191.78,294.91 L1192.95,295.80 L1194.07,296.78 L1195.15,297.85 L1196.20,298.98 L1197.20,300.17 L1198.16,301.40 L1199.08,302.66 L1199.97,303.95 L1200.82,305.24 L1201.63,306.55 L1202.41,307.87 L1203.15,309.20 L1203.86,310.54 L1204.54,311.89 L1205.19,313.25 L1205.81,314.62 L1206.40,316.00 L1206.97,317.39 L1207.51,318.79 L1208.02,320.20 L1208.51,321.61 L1208.97,323.03 L1209.41,324.46 L1209.83,325.89 L1210.23,327.33 L1210.61,328.78 L1210.98,330.23 L1211.32,331.69 L1211.65,333.15 L1211.97,334.62 L1212.27,336.09 L1212.55,337.57 L1212.83,339.04 L1213.09,340.53 L1213.35,342.01 L1213.60,343.49 L1213.83,344.98 L1214.07,346.47 L1214.29,347.96 L1214.51,349.45 L1214.73,350.94 L1214.94,352.43 L1215.15,353.92 L1215.36,355.41 L1215.56,356.90 L1215.76,358.40 L1215.96,359.89 L1216.15,361.38 L1216.34,362.87 L1216.52,364.37 L1216.70,365.86 L1216.88,367.35 L1217.06,368.85 L1217.23,370.34 L1217.40,371.83 L1217.56,373.33 L1217.73,374.82 L1217.89,376.32 L1218.04,377.81 L1218.20,379.31 L1218.35,380.81 L1218.49,382.30 L1218.64,383.80 L1218.78,385.29 L1218.92,386.79 L1219.05,388.29 L1219.19,389.78 L1219.32,391.28 L1219.45,392.78 L1219.57,394.28 L1219.69,395.77 L1219.82,397.27 L1219.93,398.77 L1220.05,400.27 L1220.16,401.77 L1220.27,403.26 L1220.38,404.76 L1220.49,406.26 L1220.59,407.76 L1220.69,409.26 L1220.79,410.76 L1220.89,412.26 L1220.99,413.76 L1221.08,415.26 L1221.17,416.76 L1221.26,418.26 L1221.35,419.76 L1221.43,421.26 L1221.52,422.76 L1221.60,424.26 L1221.68,425.76 L1221.76,427.27 L1221.84,428.77 L1221.91,430.27 L1221.99,431.77 L1222.06,433.27 L1222.13,434.77 L1222.20,436.28 L1222.27,437.78 L1222.33,439.28 L1222.40,440.78 L1222.46,442.28 L1222.52,443.79 L1222.59,445.29 L1222.65,446.79 L1222.71,448.29 L1222.76,449.80 L1222.82,451.30 L1222.88,452.80 L1222.93,454.30 L1222.99,455.81 L1223.04,457.31 L1223.09,458.81 L1223.14,460.32 L1223.19,461.82 L1223.24,463.32 L1223.29,464.83 L1223.34,466.33 L1223.39,467.83 L1223.44,469.34 L1223.49,470.84 L1223.53,472.34 L1223.58,473.85 L1223.63,475.35 L1223.67,476.86 L1223.72,478.36 L1223.76,479.86 L1223.81,481.37 L1223.85,482.87 L1223.90,484.37 L1223.94,485.88 L1223.98,487.38 L1224.03,488.89 L1224.07,490.39 L1224.12,491.89 L1224.16,493.40 L1224.21,494.90 L1224.25,496.40 L1224.29,497.91 L1224.34,499.41 L1224.39,500.91 L1224.43,502.42 L1224.48,503.92 L1224.52,505.43 L1224.57,506.93 L1224.62,508.43 L1224.67,509.94 L1224.72,511.44 L1224.76,512.94 L1224.81,514.45 L1224.87,515.95 L1224.92,517.45 L1224.97,518.96 L1225.02,520.46 L1225.08,521.96 L1225.13,523.46 L1225.19,524.97 L1225.24,526.47 L1225.30,527.97 L1225.36,529.47 L1225.42,530.98 L1225.48,532.48 L1225.54,533.98 L1225.61,535.48 L1225.67,536.99 L1225.74,538.49 L1225.81,539.99 L1225.88,541.49 L1225.95,542.99 L1226.02,544.49 L1226.09,546.00 L1226.17,547.50 L1226.24,549.00 L1226.32,550.50 L1226.40,552.00 L1226.43,550.51 L1226.46,549.01 L1226.49,547.52 L1226.52,546.02 L1226.55,544.53 L1226.58,543.03 L1226.61,541.53 L1226.63,540.04 L1226.66,538.54 L1226.69,537.05 L1226.72,535.55 L1226.75,534.05 L1226.77,532.56 L1226.80,531.06 L1226.83,529.56 L1226.86,528.06 L1226.88,526.56 L1226.91,525.07 L1226.94,523.57 L1226.96,522.07 L1226.99,520.57 L1227.02,519.07 L1227.05,517.57 L1227.07,516.07 L1227.10,514.57 L1227.13,513.08 L1227.16,511.58 L1227.18,510.08 L1227.21,508.58 L1227.24,507.08 L1227.27,505.58 L1227.30,504.07 L1227.32,502.57 L1227.35,501.07 L1227.38,499.57 L1227.41,498.07 L1227.44,496.57 L1227.47,495.07 L1227.50,493.57 L1227.53,492.07 L1227.56,490.57 L1227.59,489.06 L1227.63,487.56 L1227.66,486.06 L1227.69,484.56 L1227.72,483.06 L1227.76,481.56 L1227.79,480.05 L1227.83,478.55 L1227.86,477.05 L1227.90,475.55 L1227.93,474.05 L1227.97,472.54 L1228.01,471.04 L1228.05,469.54 L1228.08,468.04 L1228.12,466.54 L1228.16,465.03 L1228.20,463.53 L1228.24,462.03 L1228.29,460.53 L1228.33,459.02 L1228.37,457.52 L1228.42,456.02 L1228.46,454.52 L1228.51,453.01 L1228.55,451.51 L1228.60,450.01 L1228.65,448.51 L1228.70,447.01 L1228.75,445.50 L1228.80,444.00 L1228.85,442.50 L1228.90,441.00 L1228.96,439.50 L1229.01,437.99 L1229.07,436.49 L1229.12,434.99 L1229.18,433.49 L1229.24,431.99 L1229.30,430.49 L1229.36,428.98 L1229.42,427.48 L1229.48,425.98 L1229.55,424.48 L1229.61,422.98 L1229.68,421.48 L1229.75,419.98 L1229.81,418.48 L1229.88,416.98 L1229.95,415.48 L1230.03,413.98 L1230.10,412.48 L1230.18,410.98 L1230.25,409.48 L1230.33,407.98 L1230.41,406.48 L1230.49,404.98 L1230.57,403.48 L1230.65,401.98 L1230.74,400.48 L1230.82,398.98 L1230.91,397.48 L1231.00,395.98 L1231.09,394.49 L1231.18,392.99 L1231.27,391.49 L1231.37,389.99 L1231.46,388.49 L1231.56,387.00 L1231.66,385.50 L1231.76,384.00 L1231.86,382.51 L1231.97,381.01 L1232.07,379.51 L1232.18,378.02 L1232.29,376.52 L1232.40,375.03 L1232.51,373.53 L1232.63,372.04 L1232.74,370.54 L1232.86,369.05 L1232.98,367.55 L1233.10,366.06 L1233.22,364.57 L1233.35,363.07 L1233.47,361.58 L1233.60,360.09 L1233.73,358.59 L1233.87,357.10 L1234.00,355.61 L1234.14,354.12 L1234.27,352.63 L1234.41,351.14 L1234.56,349.65 L1234.70,348.16 L1234.85,346.67 L1234.99,345.18 L1235.14,343.69 L1235.30,342.20 L1235.45,340.71 L1235.61,339.22 L1235.77,337.73 L1235.93,336.25 L1236.09,334.76 L1236.26,333.27 L1236.42,331.78 L1236.59,330.30 L1236.76,328.81 L1236.94,327.33 L1237.11,325.84 L1237.29,324.36 L1237.47,322.87 L1237.66,321.39 L1237.84,319.91 L1238.03,318.42 L1238.22,316.94 L1238.41,315.46 L1238.61,313.98 L1238.81,312.50 L1239.01,311.01 L1239.21,309.53 L1239.41,308.05 L1239.62,306.57 L1239.83,305.10 L1240.04,303.62 L1240.26,302.14 L1240.48,300.66 L1240.70,299.18 L1240.92,297.71 L1241.15,296.23 L1241.38,294.75 L1241.61,293.28 L1241.84,291.80 L1242.08,290.33 L1242.32,288.86 L1242.57,287.38 L1242.81,285.91 L1243.06,284.44 L1243.32,282.97 L1243.57,281.49 L1243.83,280.02 L1244.10,278.55 L1244.36,277.08 L1244.63,275.61 L1244.90,274.15 L1245.18,272.68 L1245.46,271.21 L1245.74,269.74 L1246.03,268.28 L1246.32,266.81 L1246.61,265.34 L1246.91,263.88 L1247.21,262.42 L1247.52,260.95 L1247.82,259.49 L1248.14,258.03 L1248.45,256.56 L1248.77,255.10 L1249.10,253.64 L1249.42,252.18 L1249.75,250.72 L1250.09,249.26 L1250.43,247.81 L1250.77,246.35 L1251.12,244.89 L1251.47,243.43 L1251.83,241.98 L1252.19,240.52 L1252.55,239.07 L1252.92,237.61 L1253.29,236.16 L1253.67,234.71 L1254.05,233.26 L1254.44,231.81 L1254.83,230.36 L1255.22,228.91 L1255.62,227.46 L1256.02,226.01 L1256.43,224.56 L1256.84,223.11 L1257.26,221.67 L1257.68,220.22 L1258.11,218.78 L1258.54,217.33 L1258.98,215.89 L1259.42,214.44 L1259.87,213.00 L1260.32,211.56 L1260.77,210.12 L1261.23,208.68 L1261.70,207.25 L1262.17,205.81 L1262.65,204.38 L1263.13,202.94 L1263.61,201.51 L1264.11,200.08 L1264.60,198.65 L1265.10,197.23 L1265.61,195.80 L1266.12,194.38 L1266.64,192.96 L1267.17,191.54 L1267.70,190.12 L1268.23,188.71 L1268.77,187.29 L1269.31,185.88 L1269.87,184.48 L1270.42,183.07 L1270.98,181.67 L1271.55,180.27 L1272.13,178.87 L1272.71,177.48 L1273.29,176.08 L1273.88,174.69 L1274.48,173.31 L1275.08,171.92 L1275.69,170.54 L1276.31,169.17 L1276.93,167.79 L1277.55,166.42 L1278.19,165.06 L1278.83,163.69 L1279.47,162.33 L1280.12,160.98 L1280.78,159.62 L1281.45,158.27 L1282.12,156.93 L1282.80,155.59 L1283.48,154.25 L1284.17,152.92 L1284.87,151.59 L1285.58,150.26 L1286.29,148.94 L1287.01,147.62 L1287.74,146.31 L1288.47,145.00 L1289.21,143.70 L1289.96,142.40 L1290.72,141.11 L1291.48,139.82 L1292.25,138.54 L1293.03,137.26 L1293.81,135.98 L1294.61,134.71 L1295.41,133.45 L1296.22,132.19 L1297.03,130.93 L1297.86,129.69 L1298.69,128.44 L1299.53,127.20 L1300.38,125.97 L1301.24,124.75 L1302.11,123.53 L1302.98,122.31 L1303.86,121.10 L1304.76,119.90 L1305.66,118.71 L1306.57,117.52 L1307.48,116.34 L1308.41,115.17 L1309.35,114.00 L1310.29,112.85 L1311.24,111.70 L1312.21,110.57 L1313.18,109.44 L1314.16,108.32 L1315.15,107.21 L1316.15,106.11 L1317.16,105.03 L1318.18,103.95 L1319.21,102.88 L1320.25,101.83 L1321.30,100.79 L1322.36,99.76 L1323.43,98.74 L1324.51,97.73 L1325.60,96.74 L1326.70,95.76 L1327.81,94.79 L1328.93,93.84 L1330.06,92.90 L1331.20,91.98 L1332.35,91.07 L1333.51,90.18 L1334.69,89.30 L1335.87,88.43 L1337.07,87.58 L1338.27,86.75 L1339.49,85.93 L1340.72,85.14 L1341.96,84.35 L1343.21,83.59 L1344.47,82.84 L1345.74,82.11 L1347.03,81.40 L1348.32,80.71 L1349.63,80.03 L1350.95,79.38 L1352.27,78.74 L1353.61,78.12 L1354.97,77.52 L1356.33,76.95 L1357.70,76.39 L1359.09,75.86 L1360.49,75.34 L1361.90,74.85 L1363.32,74.38 L1364.75,73.93 L1366.19,73.50 L1367.65,73.09 L1369.12,72.71 L1370.60,72.35 L1372.09,72.01 L1373.59,71.70 L1375.11,71.41 L1376.63,71.15 L1378.17,70.91 L1379.72,70.69 L1381.29,70.50 L1382.86,70.34 L1384.45,70.20" fill="none" stroke="#0000f2" stroke-width="2.7" stroke-linejoin="round" stroke-linecap="round" stroke-dasharray="14.3 10.8 1.2 10.8" stroke-dashoffset="30.43"/>
<path d="M1384.45,70.20 L1386.04,70.35 L1387.62,70.53 L1389.18,70.73 L1390.74,70.95 L1392.28,71.20 L1393.80,71.47 L1395.32,71.77 L1396.83,72.09 L1398.32,72.43 L1399.80,72.79 L1401.27,73.18 L1402.72,73.59 L1404.17,74.02 L1405.60,74.47 L1407.02,74.94 L1408.43,75.44 L1409.82,75.95 L1411.21,76.49 L1412.58,77.04 L1413.95,77.62 L1415.30,78.21 L1416.64,78.82 L1417.96,79.46 L1419.28,80.11 L1420.59,80.78 L1421.88,81.47 L1423.16,82.17 L1424.43,82.90 L1425.69,83.64 L1426.94,84.40 L1428.18,85.18 L1429.41,85.97 L1430.63,86.78 L1431.83,87.60 L1433.03,88.45 L1434.21,89.30 L1435.38,90.18 L1436.55,91.06 L1437.70,91.97 L1438.84,92.88 L1439.97,93.82 L1441.09,94.76 L1442.20,95.72 L1443.30,96.69 L1444.39,97.68 L1445.47,98.68 L1446.53,99.69 L1447.59,100.72 L1448.64,101.76 L1449.68,102.81 L1450.71,103.87 L1451.73,104.94 L1452.74,106.02 L1453.74,107.12 L1454.72,108.22 L1455.71,109.34 L1456.68,110.47 L1457.64,111.60 L1458.59,112.75 L1459.53,113.90 L1460.47,115.07 L1461.39,116.24 L1462.31,117.42 L1463.22,118.61 L1464.12,119.81 L1465.01,121.01 L1465.89,122.23 L1466.77,123.45 L1467.63,124.68 L1468.49,125.91 L1469.34,127.15 L1470.18,128.40 L1471.01,129.65 L1471.84,130.91 L1472.66,132.17 L1473.47,133.44 L1474.27,134.72 L1475.06,136.00 L1475.85,137.28 L1476.63,138.57 L1477.40,139.86 L1478.17,141.16 L1478.93,142.46 L1479.68,143.76 L1480.42,145.07 L1481.16,146.38 L1481.89,147.70 L1482.61,149.02 L1483.32,150.34 L1484.03,151.67 L1484.73,153.00 L1485.43,154.34 L1486.12,155.68 L1486.80,157.02 L1487.47,158.36 L1488.14,159.71 L1488.80,161.07 L1489.46,162.42 L1490.10,163.78 L1490.75,165.14 L1491.38,166.51 L1492.01,167.88 L1492.63,169.25 L1493.25,170.62 L1493.86,172.00 L1494.46,173.38 L1495.06,174.76 L1495.65,176.15 L1496.24,177.54 L1496.81,178.93 L1497.39,180.32 L1497.96,181.72 L1498.52,183.12 L1499.07,184.52 L1499.62,185.92 L1500.17,187.33 L1500.71,188.74 L1501.24,190.15 L1501.77,191.56 L1502.29,192.98 L1502.80,194.39 L1503.31,195.81 L1503.82,197.23 L1504.32,198.65 L1504.81,200.08 L1505.30,201.51 L1505.79,202.93 L1506.27,204.36 L1506.74,205.79 L1507.21,207.23 L1507.67,208.66 L1508.13,210.10 L1508.59,211.54 L1509.03,212.97 L1509.48,214.41 L1509.92,215.86 L1510.35,217.30 L1510.78,218.74 L1511.21,220.19 L1511.63,221.63 L1512.04,223.08 L1512.45,224.52 L1512.86,225.97 L1513.26,227.42 L1513.66,228.87 L1514.05,230.32 L1514.44,231.77 L1514.83,233.23 L1515.21,234.68 L1515.58,236.13 L1515.96,237.59 L1516.32,239.04 L1516.69,240.49 L1517.05,241.95 L1517.40,243.41 L1517.75,244.86 L1518.10,246.32 L1518.44,247.78 L1518.78,249.24 L1519.12,250.70 L1519.45,252.16 L1519.78,253.62 L1520.10,255.08 L1520.42,256.54 L1520.74,258.00 L1521.05,259.47 L1521.36,260.93 L1521.67,262.40 L1521.97,263.86 L1522.27,265.33 L1522.56,266.79 L1522.86,268.26 L1523.14,269.73 L1523.43,271.19 L1523.71,272.66 L1523.99,274.13 L1524.26,275.60 L1524.53,277.07 L1524.80,278.54 L1525.06,280.01 L1525.32,281.48 L1525.58,282.95 L1525.83,284.43 L1526.09,285.90 L1526.33,287.37 L1526.58,288.85 L1526.82,290.32 L1527.06,291.80 L1527.30,293.27 L1527.53,294.75 L1527.76,296.22 L1527.99,297.70 L1528.21,299.18 L1528.43,300.65 L1528.65,302.13 L1528.87,303.61 L1529.08,305.09 L1529.29,306.57 L1529.50,308.05 L1529.70,309.53 L1529.91,311.01 L1530.11,312.49 L1530.30,313.97 L1530.50,315.46 L1530.69,316.94 L1530.88,318.42 L1531.07,319.90 L1531.25,321.39 L1531.44,322.87 L1531.62,324.36 L1531.79,325.84 L1531.97,327.33 L1532.14,328.81 L1532.31,330.30 L1532.48,331.79 L1532.65,333.27 L1532.82,334.76 L1532.98,336.25 L1533.14,337.74 L1533.30,339.22 L1533.45,340.71 L1533.61,342.20 L1533.76,343.69 L1533.91,345.18 L1534.06,346.67 L1534.20,348.16 L1534.35,349.65 L1534.49,351.14 L1534.63,352.63 L1534.77,354.12 L1534.90,355.62 L1535.04,357.11 L1535.17,358.60 L1535.30,360.09 L1535.43,361.59 L1535.55,363.08 L1535.68,364.57 L1535.80,366.07 L1535.92,367.56 L1536.04,369.06 L1536.16,370.55 L1536.27,372.05 L1536.39,373.54 L1536.50,375.04 L1536.61,376.53 L1536.72,378.03 L1536.83,379.52 L1536.93,381.02 L1537.04,382.52 L1537.14,384.01 L1537.24,385.51 L1537.34,387.01 L1537.43,388.50 L1537.53,390.00 L1537.63,391.50 L1537.72,393.00 L1537.81,394.50 L1537.90,395.99 L1537.99,397.49 L1538.08,398.99 L1538.16,400.49 L1538.25,401.99 L1538.33,403.49 L1538.41,404.99 L1538.49,406.49 L1538.57,407.99 L1538.65,409.49 L1538.72,410.99 L1538.80,412.49 L1538.87,413.99 L1538.94,415.49 L1539.01,416.99 L1539.08,418.49 L1539.15,419.99 L1539.22,421.49 L1539.29,422.99 L1539.35,424.49 L1539.41,425.99 L1539.48,427.50 L1539.54,429.00 L1539.60,430.50 L1539.66,432.00 L1539.72,433.50 L1539.78,435.00 L1539.83,436.50 L1539.89,438.01 L1539.94,439.51 L1540.00,441.01 L1540.05,442.51 L1540.10,444.01 L1540.15,445.52 L1540.20,447.02 L1540.25,448.52 L1540.30,450.02 L1540.35,451.53 L1540.39,453.03 L1540.44,454.53 L1540.48,456.03 L1540.53,457.53 L1540.57,459.04 L1540.61,460.54 L1540.66,462.04 L1540.70,463.54 L1540.74,465.05 L1540.78,466.55 L1540.82,468.05 L1540.85,469.55 L1540.89,471.05 L1540.93,472.56 L1540.97,474.06 L1541.00,475.56 L1541.04,477.06 L1541.07,478.56 L1541.11,480.07 L1541.14,481.57 L1541.18,483.07 L1541.21,484.57 L1541.24,486.07 L1541.27,487.57 L1541.31,489.08 L1541.34,490.58 L1541.37,492.08 L1541.40,493.58 L1541.43,495.08 L1541.46,496.58 L1541.49,498.08 L1541.52,499.58 L1541.55,501.08 L1541.58,502.58 L1541.61,504.08 L1541.63,505.58 L1541.66,507.08 L1541.69,508.58 L1541.72,510.08 L1541.75,511.58 L1541.77,513.08 L1541.80,514.58 L1541.83,516.08 L1541.86,517.58 L1541.88,519.08 L1541.91,520.58 L1541.94,522.08 L1541.96,523.57 L1541.99,525.07 L1542.02,526.57 L1542.05,528.07 L1542.07,529.56 L1542.10,531.06 L1542.13,532.56 L1542.16,534.06 L1542.18,535.55 L1542.21,537.05 L1542.24,538.55 L1542.27,540.04 L1542.30,541.54 L1542.32,543.03 L1542.35,544.53 L1542.38,546.02 L1542.41,547.52 L1542.44,549.01 L1542.47,550.51 L1542.50,552.00 L1542.56,550.50 L1542.62,549.00 L1542.68,547.50 L1542.74,546.00 L1542.80,544.50 L1542.86,543.00 L1542.92,541.50 L1542.98,540.00 L1543.03,538.49 L1543.09,536.99 L1543.15,535.49 L1543.20,533.99 L1543.26,532.49 L1543.31,530.99 L1543.37,529.49 L1543.42,527.99 L1543.48,526.49 L1543.53,524.98 L1543.59,523.48 L1543.64,521.98 L1543.69,520.48 L1543.75,518.98 L1543.80,517.48 L1543.85,515.98 L1543.91,514.48 L1543.96,512.97 L1544.01,511.47 L1544.07,509.97 L1544.12,508.47 L1544.17,506.97 L1544.22,505.47 L1544.28,503.96 L1544.33,502.46 L1544.38,500.96 L1544.43,499.46 L1544.49,497.96 L1544.54,496.46 L1544.59,494.96 L1544.64,493.45 L1544.70,491.95 L1544.75,490.45 L1544.81,488.95 L1544.86,487.45 L1544.91,485.95 L1544.97,484.44 L1545.02,482.94 L1545.08,481.44 L1545.13,479.94 L1545.19,478.44 L1545.24,476.94 L1545.30,475.43 L1545.36,473.93 L1545.41,472.43 L1545.47,470.93 L1545.53,469.43 L1545.59,467.93 L1545.64,466.43 L1545.70,464.92 L1545.76,463.42 L1545.82,461.92 L1545.89,460.42 L1545.95,458.92 L1546.01,457.42 L1546.07,455.92 L1546.13,454.42 L1546.20,452.91 L1546.26,451.41 L1546.33,449.91 L1546.39,448.41 L1546.46,446.91 L1546.53,445.41 L1546.60,443.91 L1546.67,442.41 L1546.74,440.91 L1546.81,439.41 L1546.88,437.90 L1546.95,436.40 L1547.02,434.90 L1547.10,433.40 L1547.17,431.90 L1547.25,430.40 L1547.32,428.90 L1547.40,427.40 L1547.48,425.90 L1547.56,424.40 L1547.64,422.90 L1547.72,421.40 L1547.81,419.90 L1547.89,418.40 L1547.98,416.90 L1548.06,415.40 L1548.15,413.90 L1548.24,412.40 L1548.33,410.90 L1548.42,409.40 L1548.51,407.90 L1548.61,406.40 L1548.70,404.90 L1548.80,403.40 L1548.89,401.90 L1548.99,400.41 L1549.09,398.91 L1549.19,397.41 L1549.30,395.91 L1549.40,394.41 L1549.51,392.91 L1549.61,391.41 L1549.72,389.91 L1549.83,388.42 L1549.95,386.92 L1550.06,385.42 L1550.18,383.92 L1550.31,382.43 L1550.43,380.93 L1550.56,379.43 L1550.69,377.94 L1550.83,376.44 L1550.97,374.95 L1551.11,373.46 L1551.26,371.96 L1551.42,370.47 L1551.58,368.98 L1551.74,367.49 L1551.91,366.00 L1552.09,364.51 L1552.27,363.02 L1552.46,361.53 L1552.65,360.04 L1552.85,358.56 L1553.06,357.07 L1553.27,355.59 L1553.50,354.11 L1553.72,352.63 L1553.96,351.14 L1554.21,349.67 L1554.46,348.19 L1554.72,346.71 L1554.99,345.24 L1555.27,343.76 L1555.56,342.29 L1555.85,340.82 L1556.16,339.35 L1556.48,337.88 L1556.80,336.41 L1557.14,334.95 L1557.48,333.49 L1557.84,332.02 L1558.21,330.56 L1558.59,329.10 L1558.98,327.65 L1559.38,326.19 L1559.79,324.74 L1560.22,323.29 L1560.66,321.84 L1561.11,320.40 L1561.58,318.96 L1562.08,317.53 L1562.59,316.11 L1563.13,314.71 L1563.69,313.31 L1564.29,311.93 L1564.91,310.57 L1565.57,309.23 L1566.27,307.90 L1567.00,306.60 L1567.77,305.32 L1568.58,304.07 L1569.44,302.84 L1570.34,301.65 L1571.30,300.48 L1572.30,299.34 L1573.36,298.24 L1574.47,297.18 L1575.64,296.15 L1576.86,295.17 L1578.13,294.28 L1579.45,293.48 L1580.79,292.83 L1582.17,292.34 L1583.56,292.03 L1584.97,291.93 L1586.39,292.00 L1587.81,292.23 L1589.21,292.59 L1590.61,293.07 L1591.98,293.64 L1593.33,294.28 L1594.65,294.98 L1595.93,295.74 L1597.19,296.55 L1598.42,297.42 L1599.62,298.33 L1600.79,299.28 L1601.93,300.28 L1603.05,301.31 L1604.15,302.38 L1605.21,303.49 L1606.26,304.62 L1607.28,305.78 L1608.27,306.96 L1609.25,308.16 L1610.20,309.38 L1611.13,310.62 L1612.04,311.86 L1612.93,313.12 L1613.80,314.38 L1614.65,315.64 L1615.48,316.92 L1616.30,318.20 L1617.10,319.49 L1617.88,320.78 L1618.64,322.08 L1619.39,323.38 L1620.13,324.69 L1620.85,326.00 L1621.56,327.32 L1622.26,328.64 L1622.94,329.96 L1623.61,331.29 L1624.27,332.62 L1624.92,333.96 L1625.56,335.29 L1626.19,336.64 L1626.81,337.98 L1627.42,339.33 L1628.03,340.68 L1628.62,342.04 L1629.21,343.39 L1629.79,344.75 L1630.37,346.12 L1630.94,347.48 L1631.50,348.85 L1632.06,350.22 L1632.62,351.60 L1633.17,352.98 L1633.71,354.36 L1634.25,355.74 L1634.80,357.13 L1635.33,358.52 L1635.87,359.91 L1636.40,361.30 L1636.94,362.70 L1637.47,364.10 L1638.00,365.50 L1638.54,366.90 L1639.07,368.31 L1639.61,369.72 L1640.14,371.13 L1640.68,372.54 L1641.23,373.96 L1641.77,375.37 L1642.32,376.79 L1642.87,378.22 L1643.43,379.64 L1644.00,381.07 L1644.56,382.49 L1645.14,383.92 L1645.72,385.36 L1646.31,386.79 L1646.90,388.23 L1647.50,389.66 L1648.11,391.10 L1648.74,392.54 L1649.37,393.97 L1650.03,395.39 L1650.70,396.79 L1651.41,398.17 L1652.14,399.53 L1652.90,400.86 L1653.69,402.15 L1654.53,403.41 L1655.40,404.62 L1656.32,405.79 L1657.29,406.91 L1658.31,407.93 L1659.39,408.76 L1660.52,409.24 L1661.71,409.32 L1662.94,409.05 L1664.19,408.50 L1665.44,407.74 L1666.69,406.83 L1667.90,405.85 L1669.07,404.85 L1670.21,403.83 L1671.30,402.79 L1672.36,401.73 L1673.39,400.66 L1674.40,399.58 L1675.37,398.48 L1676.33,397.37 L1677.26,396.25 L1678.18,395.12 L1679.08,393.99 L1679.97,392.84 L1680.86,391.68 L1681.73,390.53 L1682.61,389.36 L1683.48,388.19 L1684.36,387.02 L1685.24,385.84 L1686.13,384.67 L1687.03,383.49 L1687.95,382.32 L1688.88,381.15 L1689.83,379.98 L1690.80,378.81 L1691.80,377.65 L1692.82,376.49 L1693.85,375.34 L1694.91,374.20 L1695.98,373.06 L1697.07,371.94 L1698.17,370.83 L1699.28,369.73 L1700.41,368.64 L1701.55,367.56 L1702.69,366.50 L1703.84,365.45 L1705.00,364.42 L1706.16,363.41 L1707.33,362.42 L1708.50,361.44 L1709.67,360.48 L1710.85,359.54 L1712.03,358.62 L1713.22,357.72 L1714.41,356.83 L1715.61,355.96 L1716.82,355.11 L1718.03,354.28 L1719.25,353.47 L1720.48,352.67 L1721.72,351.89 L1722.97,351.12 L1724.22,350.37 L1725.49,349.64 L1726.77,348.93 L1728.06,348.23 L1729.35,347.55 L1730.67,346.88 L1731.99,346.23 L1733.32,345.60 L1734.67,344.98 L1736.04,344.38 L1737.41,343.79 L1738.81,343.22 L1740.21,342.67 L1741.64,342.13 L1743.07,341.60 L1744.53,341.09 L1746.00,340.60" fill="none" stroke="#0000f2" stroke-width="2.7" stroke-linejoin="round" stroke-linecap="round" stroke-dasharray="14.3 10.8 1.2 10.8" stroke-dashoffset="21.91"/>
<path d="M1017.90,321.90 L1018.81,323.16 L1019.69,324.43 L1020.55,325.71 L1021.39,326.99 L1022.21,328.28 L1023.00,329.59 L1023.77,330.90 L1024.52,332.21 L1025.25,333.54 L1025.96,334.87 L1026.64,336.21 L1027.31,337.55 L1027.96,338.90 L1028.59,340.26 L1029.21,341.63 L1029.80,343.00 L1030.38,344.38 L1030.94,345.76 L1031.48,347.15 L1032.01,348.55 L1032.53,349.95 L1033.02,351.36 L1033.51,352.77 L1033.97,354.19 L1034.43,355.61 L1034.87,357.04 L1035.30,358.47 L1035.71,359.91 L1036.12,361.35 L1036.51,362.79 L1036.89,364.24 L1037.26,365.69 L1037.62,367.15 L1037.97,368.61 L1038.31,370.07 L1038.64,371.54 L1038.96,373.01 L1039.28,374.48 L1039.58,375.95 L1039.88,377.43 L1040.18,378.91 L1040.46,380.39 L1040.74,381.88 L1041.02,383.36 L1041.29,384.85 L1041.55,386.34 L1041.81,387.83 L1042.07,389.32 L1042.32,390.82 L1042.57,392.31 L1042.82,393.81 L1043.07,395.30 L1043.31,396.80 L1043.56,398.30 L1043.80,399.79 L1044.04,401.29 L1044.29,402.79 L1044.53,404.29 L1044.77,405.78 L1045.02,407.28 L1045.27,408.77 L1045.52,410.27 L1045.77,411.76 L1046.03,413.25 L1046.29,414.75 L1046.55,416.23 L1046.82,417.72 L1047.10,419.21 L1047.38,420.69 L1047.66,422.17 L1047.95,423.65 L1048.25,425.13 L1048.56,426.60 L1048.87,428.08 L1049.19,429.55 L1049.52,431.01 L1049.86,432.47 L1050.21,433.93 L1050.56,435.39 L1050.93,436.84 L1051.31,438.29 L1051.70,439.73 L1052.10,441.17 L1052.52,442.61 L1052.94,444.04 L1053.38,445.46 L1053.83,446.88 L1054.30,448.30 L1054.58,446.82 L1054.86,445.34 L1055.14,443.86 L1055.41,442.38 L1055.68,440.89 L1055.94,439.41 L1056.20,437.92 L1056.46,436.44 L1056.72,434.95 L1056.97,433.47 L1057.22,431.98 L1057.46,430.50 L1057.71,429.01 L1057.95,427.52 L1058.18,426.03 L1058.42,424.55 L1058.66,423.06 L1058.89,421.57 L1059.12,420.08 L1059.35,418.59 L1059.58,417.10 L1059.81,415.61 L1060.03,414.12 L1060.26,412.63 L1060.48,411.14 L1060.71,409.66 L1060.93,408.17 L1061.15,406.68 L1061.38,405.19 L1061.60,403.70 L1061.83,402.21 L1062.05,400.72 L1062.28,399.23 L1062.50,397.75 L1062.73,396.26 L1062.96,394.77 L1063.18,393.28 L1063.41,391.80 L1063.65,390.31 L1063.88,388.83 L1064.11,387.34 L1064.35,385.86 L1064.59,384.37 L1064.83,382.89 L1065.08,381.41 L1065.32,379.93 L1065.57,378.45 L1065.82,376.97 L1066.08,375.49 L1066.34,374.01 L1066.60,372.53 L1066.86,371.05 L1067.13,369.58 L1067.41,368.10 L1067.68,366.63 L1067.96,365.15 L1068.25,363.68 L1068.54,362.21 L1068.83,360.74 L1069.13,359.27 L1069.43,357.81 L1069.74,356.34 L1070.06,354.88 L1070.38,353.41 L1070.70,351.95 L1071.03,350.49 L1071.37,349.03 L1071.71,347.57 L1072.06,346.11 L1072.41,344.66 L1072.78,343.21 L1073.14,341.75 L1073.52,340.30 L1073.90,338.85 L1074.29,337.41 L1074.68,335.96 L1075.09,334.52 L1075.50,333.07 L1075.92,331.63 L1076.34,330.20 L1076.78,328.76 L1077.22,327.32 L1077.67,325.89 L1078.13,324.46 L1078.60,323.03 L1079.08,321.61 L1079.56,320.18 L1080.06,318.76 L1080.56,317.34 L1081.07,315.92 L1081.60,314.50 L1082.13,313.09 L1082.67,311.68 L1083.22,310.27 L1083.79,308.86 L1084.36,307.45 L1084.94,306.05 L1085.54,304.65 L1086.14,303.25 L1086.76,301.86 L1087.39,300.47 L1088.03,299.08 L1088.68,297.69 L1089.34,296.31 L1090.01,294.93 L1090.70,293.56 L1091.40,292.20 L1092.12,290.84 L1092.86,289.49 L1093.60,288.16 L1094.37,286.84 L1095.15,285.52 L1095.95,284.22 L1096.77,282.94 L1097.61,281.67 L1098.46,280.42 L1099.34,279.19 L1100.24,277.97 L1101.16,276.77 L1102.10,275.60 L1103.06,274.44 L1104.05,273.31 L1105.06,272.20 L1106.09,271.12 L1107.15,270.06 L1108.23,269.03 L1109.34,268.02 L1110.48,267.05 L1111.65,266.10 L1112.84,265.19 L1114.06,264.30 L1115.31,263.45 L1116.59,262.64 L1117.89,261.86 L1119.22,261.12 L1120.58,260.43 L1121.95,259.78 L1123.34,259.19 L1124.75,258.66 L1126.17,258.18 L1127.60,257.77 L1129.04,257.42 L1130.49,257.15 L1131.94,256.95 L1133.39,256.83 L1134.84,256.78 L1136.29,256.80 L1137.73,256.90 L1139.17,257.06 L1140.59,257.29 L1142.00,257.59 L1143.40,257.96 L1144.78,258.39 L1146.14,258.89 L1147.48,259.44 L1148.81,260.06 L1150.11,260.72 L1151.40,261.45 L1152.67,262.22 L1153.93,263.03 L1155.17,263.89 L1156.39,264.80 L1157.59,265.74 L1158.78,266.72 L1159.95,267.73 L1161.11,268.77 L1162.25,269.84 L1163.37,270.93 L1164.48,272.05 L1165.58,273.19 L1166.66,274.34 L1167.73,275.51 L1168.78,276.69 L1169.82,277.88 L1170.85,279.07 L1171.87,280.27 L1172.87,281.47 L1173.86,282.67 L1174.83,283.86 L1175.80,285.04 L1176.75,286.22 L1177.69,287.38 L1178.64,288.52 L1179.58,289.65 L1180.53,290.76 L1181.49,291.85 L1182.47,292.91 L1183.46,293.94 L1184.48,294.95 L1185.53,295.92 L1186.61,296.85 L1187.72,297.75 L1188.88,298.61 L1190.08,299.43 L1191.33,300.20 L1192.64,300.93 L1194.01,301.60 L1195.44,302.22 L1196.93,302.79 L1198.50,303.30 L1199.46,302.12 L1200.40,300.92 L1201.33,299.72 L1202.24,298.52 L1203.14,297.30 L1204.02,296.08 L1204.90,294.85 L1205.76,293.62 L1206.60,292.37 L1207.44,291.13 L1208.26,289.87 L1209.07,288.61 L1209.87,287.34 L1210.66,286.07 L1211.44,284.79 L1212.20,283.51 L1212.96,282.22 L1213.71,280.93 L1214.45,279.63 L1215.18,278.33 L1215.90,277.02 L1216.61,275.71 L1217.31,274.39 L1218.01,273.07 L1218.70,271.74 L1219.38,270.42 L1220.06,269.08 L1220.73,267.75 L1221.39,266.41 L1222.05,265.07 L1222.70,263.73 L1223.35,262.38 L1223.99,261.03 L1224.63,259.68 L1225.26,258.32 L1225.89,256.97 L1226.52,255.61 L1227.14,254.25 L1227.77,252.89 L1228.39,251.53 L1229.00,250.16 L1229.62,248.80 L1230.23,247.43 L1230.84,246.07 L1231.46,244.70 L1232.07,243.34 L1232.68,241.97 L1233.29,240.60 L1233.90,239.24 L1234.52,237.87 L1235.13,236.50 L1235.75,235.14 L1236.36,233.77 L1236.98,232.41 L1237.61,231.05 L1238.23,229.69 L1238.86,228.33 L1239.49,226.97 L1240.13,225.62 L1240.77,224.26 L1241.41,222.91 L1242.06,221.56 L1242.72,220.22 L1243.38,218.87 L1244.04,217.53 L1244.71,216.19 L1245.38,214.85 L1246.06,213.52 L1246.74,212.19 L1247.42,210.86 L1248.11,209.53 L1248.81,208.20 L1249.51,206.88 L1250.21,205.56 L1250.92,204.24 L1251.63,202.92 L1252.35,201.60 L1253.07,200.29 L1253.79,198.98 L1254.52,197.67 L1255.25,196.36 L1255.99,195.06 L1256.73,193.76 L1257.48,192.46 L1258.23,191.16 L1258.98,189.86 L1259.74,188.57 L1260.50,187.28 L1261.27,185.99 L1262.04,184.70 L1262.81,183.41 L1263.59,182.13 L1264.37,180.85 L1265.16,179.57 L1265.95,178.29 L1266.74,177.02 L1267.54,175.74 L1268.34,174.47 L1269.15,173.20 L1269.95,171.93 L1270.77,170.67 L1271.58,169.41 L1272.40,168.14 L1273.23,166.89 L1274.05,165.63 L1274.89,164.37 L1275.72,163.12 L1276.56,161.87 L1277.40,160.62 L1278.24,159.37 L1279.09,158.12 L1279.95,156.88 L1280.80,155.64 L1281.66,154.40 L1282.53,153.16 L1283.39,151.93 L1284.27,150.70 L1285.14,149.47 L1286.02,148.25 L1286.91,147.03 L1287.80,145.81 L1288.70,144.60 L1289.60,143.39 L1290.51,142.19 L1291.43,140.99 L1292.35,139.79 L1293.27,138.60 L1294.20,137.42 L1295.14,136.24 L1296.09,135.07 L1297.04,133.91 L1298.00,132.75 L1298.97,131.59 L1299.94,130.45 L1300.92,129.31 L1301.91,128.18 L1302.91,127.05 L1303.91,125.93 L1304.93,124.82 L1305.95,123.72 L1306.98,122.63 L1308.02,121.55 L1309.07,120.47 L1310.13,119.40 L1311.19,118.34 L1312.27,117.30 L1313.36,116.26 L1314.45,115.23 L1315.56,114.21 L1316.68,113.20 L1317.80,112.20 L1318.94,111.21 L1320.09,110.24 L1321.25,109.27 L1322.42,108.32 L1323.59,107.37 L1324.78,106.44 L1325.99,105.53 L1327.20,104.62 L1328.42,103.73 L1329.65,102.85 L1330.89,101.99 L1332.14,101.15 L1333.40,100.31 L1334.67,99.50 L1335.95,98.70 L1337.24,97.91 L1338.54,97.14 L1339.84,96.39 L1341.16,95.66 L1342.49,94.94 L1343.82,94.24 L1345.17,93.57 L1346.52,92.91 L1347.88,92.27 L1349.25,91.64 L1350.63,91.04 L1352.02,90.46 L1353.42,89.90 L1354.82,89.37 L1356.24,88.85 L1357.66,88.36 L1359.09,87.88 L1360.52,87.44 L1361.97,87.01 L1363.41,86.61 L1364.87,86.23 L1366.33,85.88 L1367.79,85.55 L1369.25,85.24 L1370.72,84.96 L1372.19,84.71 L1373.66,84.49 L1375.14,84.29 L1376.61,84.12 L1378.09,83.97 L1379.56,83.85 L1381.03,83.77 L1382.50,83.71 L1383.97,83.67 L1385.44,83.67 L1386.90,83.70 L1388.36,83.76 L1389.81,83.84 L1391.26,83.96 L1392.71,84.10 L1394.15,84.27 L1395.59,84.47 L1397.03,84.69 L1398.46,84.94 L1399.89,85.22 L1401.31,85.52 L1402.73,85.84 L1404.14,86.20 L1405.55,86.57 L1406.95,86.97 L1408.35,87.40 L1409.74,87.84 L1411.13,88.31 L1412.51,88.81 L1413.89,89.32 L1415.26,89.86 L1416.63,90.42 L1417.99,91.00 L1419.34,91.60 L1420.69,92.22 L1422.03,92.86 L1423.36,93.52 L1424.69,94.20 L1426.01,94.90 L1427.33,95.61 L1428.64,96.35 L1429.94,97.10 L1431.23,97.87 L1432.52,98.66 L1433.80,99.46 L1435.07,100.28 L1436.33,101.12 L1437.59,101.97 L1438.84,102.84 L1440.08,103.72 L1441.31,104.61 L1442.54,105.52 L1443.76,106.44 L1444.96,107.38 L1446.16,108.33 L1447.35,109.29 L1448.54,110.26 L1449.71,111.25 L1450.87,112.24 L1452.03,113.25 L1453.17,114.27 L1454.31,115.30 L1455.44,116.33 L1456.56,117.38 L1457.66,118.44 L1458.76,119.50 L1459.85,120.57 L1460.93,121.65 L1462.00,122.74 L1463.05,123.84 L1464.10,124.94 L1465.14,126.05 L1466.16,127.16 L1467.18,128.28 L1468.19,129.41 L1469.18,130.55 L1470.17,131.69 L1471.15,132.83 L1472.12,133.98 L1473.08,135.14 L1474.03,136.30 L1474.98,137.47 L1475.91,138.64 L1476.84,139.82 L1477.76,141.00 L1478.67,142.19 L1479.58,143.38 L1480.48,144.58 L1481.37,145.78 L1482.25,146.98 L1483.13,148.19 L1484.00,149.41 L1484.87,150.63 L1485.73,151.85 L1486.58,153.08 L1487.43,154.31 L1488.27,155.54 L1489.11,156.78 L1489.95,158.02 L1490.77,159.26 L1491.60,160.51 L1492.42,161.76 L1493.23,163.01 L1494.05,164.27 L1494.86,165.53 L1495.66,166.79 L1496.46,168.05 L1497.26,169.32 L1498.06,170.59 L1498.85,171.86 L1499.64,173.13 L1500.43,174.41 L1501.22,175.69 L1502.00,176.97 L1502.78,178.25 L1503.56,179.53 L1504.34,180.82 L1505.11,182.10 L1505.88,183.39 L1506.64,184.69 L1507.41,185.98 L1508.17,187.28 L1508.93,188.57 L1509.68,189.87 L1510.44,191.18 L1511.18,192.48 L1511.93,193.78 L1512.67,195.09 L1513.41,196.40 L1514.15,197.71 L1514.88,199.02 L1515.61,200.34 L1516.34,201.66 L1517.06,202.97 L1517.78,204.30 L1518.50,205.62 L1519.21,206.94 L1519.92,208.27 L1520.63,209.59 L1521.33,210.92 L1522.03,212.25 L1522.72,213.59 L1523.41,214.92 L1524.10,216.26 L1524.79,217.59 L1525.47,218.93 L1526.14,220.27 L1526.81,221.62 L1527.48,222.96 L1528.15,224.31 L1528.81,225.65 L1529.47,227.00 L1530.12,228.35 L1530.77,229.71 L1531.41,231.06 L1532.05,232.41 L1532.69,233.77 L1533.32,235.13 L1533.95,236.49 L1534.57,237.85 L1535.19,239.21 L1535.81,240.57 L1536.42,241.94 L1537.03,243.30 L1537.64,244.67 L1538.25,246.03 L1538.86,247.40 L1539.47,248.76 L1540.08,250.13 L1540.69,251.49 L1541.29,252.85 L1541.91,254.21 L1542.52,255.57 L1543.13,256.93 L1543.75,258.29 L1544.37,259.65 L1544.99,261.00 L1545.62,262.35 L1546.25,263.70 L1546.89,265.05 L1547.53,266.39 L1548.18,267.73 L1548.83,269.07 L1549.49,270.41 L1550.16,271.74 L1550.83,273.06 L1551.52,274.39 L1552.21,275.71 L1552.91,277.02 L1553.62,278.33 L1554.33,279.64 L1555.06,280.94 L1555.80,282.23 L1556.55,283.53 L1557.31,284.81 L1558.09,286.09 L1558.87,287.36 L1559.67,288.63 L1560.48,289.89 L1561.31,291.15 L1562.15,292.40 L1563.00,293.64 L1563.87,294.87 L1564.75,296.10 L1565.65,297.32 L1566.57,298.53 L1567.50,299.74 L1568.45,300.93 L1569.41,302.12 L1570.40,303.30 L1571.83,302.78 L1573.22,302.21 L1574.57,301.58 L1575.88,300.89 L1577.15,300.15 L1578.39,299.37 L1579.59,298.54 L1580.76,297.66 L1581.90,296.75 L1583.02,295.81 L1584.11,294.83 L1585.18,293.82 L1586.24,292.78 L1587.27,291.72 L1588.29,290.64 L1589.30,289.53 L1590.29,288.42 L1591.28,287.29 L1592.26,286.15 L1593.24,285.01 L1594.22,283.86 L1595.20,282.71 L1596.18,281.55 L1597.16,280.40 L1598.16,279.24 L1599.16,278.09 L1600.18,276.93 L1601.21,275.77 L1602.25,274.62 L1603.32,273.47 L1604.40,272.32 L1605.51,271.18 L1606.63,270.05 L1607.78,268.94 L1608.94,267.85 L1610.12,266.79 L1611.32,265.76 L1612.54,264.76 L1613.78,263.80 L1615.03,262.88 L1616.30,262.02 L1617.59,261.20 L1618.89,260.44 L1620.21,259.74 L1621.55,259.11 L1622.90,258.55 L1624.27,258.06 L1625.65,257.65 L1627.04,257.31 L1628.45,257.06 L1629.86,256.88 L1631.29,256.77 L1632.72,256.73 L1634.15,256.77 L1635.58,256.87 L1637.02,257.03 L1638.45,257.26 L1639.88,257.55 L1641.30,257.90 L1642.71,258.31 L1644.12,258.77 L1645.51,259.29 L1646.89,259.86 L1648.25,260.48 L1649.59,261.15 L1650.92,261.87 L1652.22,262.63 L1653.50,263.43 L1654.75,264.27 L1655.98,265.16 L1657.18,266.08 L1658.35,267.03 L1659.50,268.02 L1660.63,269.04 L1661.72,270.09 L1662.80,271.16 L1663.84,272.27 L1664.86,273.39 L1665.86,274.54 L1666.82,275.71 L1667.77,276.89 L1668.68,278.10 L1669.58,279.32 L1670.45,280.56 L1671.29,281.81 L1672.12,283.08 L1672.93,284.36 L1673.71,285.65 L1674.48,286.96 L1675.23,288.28 L1675.97,289.60 L1676.68,290.94 L1677.39,292.29 L1678.08,293.64 L1678.75,295.00 L1679.41,296.37 L1680.06,297.74 L1680.70,299.12 L1681.33,300.50 L1681.96,301.88 L1682.57,303.27 L1683.17,304.66 L1683.76,306.05 L1684.35,307.44 L1684.93,308.84 L1685.49,310.24 L1686.05,311.65 L1686.60,313.05 L1687.14,314.46 L1687.67,315.87 L1688.20,317.29 L1688.72,318.70 L1689.22,320.12 L1689.72,321.54 L1690.21,322.97 L1690.70,324.39 L1691.17,325.82 L1691.64,327.25 L1692.10,328.69 L1692.55,330.12 L1692.99,331.56 L1693.43,333.00 L1693.86,334.44 L1694.28,335.88 L1694.69,337.33 L1695.10,338.78 L1695.49,340.23 L1695.89,341.68 L1696.27,343.13 L1696.65,344.59 L1697.02,346.04 L1697.38,347.50 L1697.74,348.96 L1698.08,350.42 L1698.43,351.89 L1698.76,353.35 L1699.09,354.82 L1699.42,356.28 L1699.73,357.75 L1700.04,359.22 L1700.35,360.69 L1700.64,362.17 L1700.94,363.64 L1701.22,365.12 L1701.50,366.59 L1701.78,368.07 L1702.05,369.55 L1702.31,371.03 L1702.57,372.51 L1702.82,373.99 L1703.07,375.47 L1703.31,376.96 L1703.55,378.44 L1703.78,379.93 L1704.01,381.41 L1704.23,382.90 L1704.45,384.38 L1704.67,385.87 L1704.88,387.36 L1705.10,388.85 L1705.30,390.34 L1705.51,391.83 L1705.72,393.31 L1705.92,394.80 L1706.12,396.29 L1706.32,397.79 L1706.52,399.28 L1706.72,400.77 L1706.92,402.26 L1707.12,403.75 L1707.32,405.24 L1707.52,406.73 L1707.73,408.22 L1707.93,409.71 L1708.13,411.20 L1708.34,412.69 L1708.55,414.18 L1708.76,415.67 L1708.97,417.16 L1709.19,418.65 L1709.41,420.14 L1709.64,421.63 L1709.86,423.12 L1710.09,424.61 L1710.33,426.09 L1710.57,427.58 L1710.82,429.06 L1711.07,430.55 L1711.32,432.03 L1711.59,433.52 L1711.86,435.00 L1712.13,436.48 L1712.41,437.96 L1712.70,439.44 L1713.00,440.92 L1713.30,442.40 L1713.61,443.88 L1713.93,445.35 L1714.26,446.83 L1714.60,448.30 L1715.07,446.88 L1715.53,445.45 L1715.97,444.01 L1716.40,442.58 L1716.82,441.14 L1717.22,439.69 L1717.62,438.24 L1718.00,436.79 L1718.37,435.34 L1718.73,433.88 L1719.08,432.42 L1719.42,430.96 L1719.75,429.49 L1720.07,428.03 L1720.38,426.55 L1720.69,425.08 L1720.98,423.61 L1721.27,422.13 L1721.56,420.65 L1721.84,419.17 L1722.11,417.69 L1722.38,416.20 L1722.64,414.72 L1722.89,413.23 L1723.15,411.75 L1723.40,410.26 L1723.65,408.77 L1723.89,407.28 L1724.14,405.79 L1724.38,404.30 L1724.62,402.80 L1724.86,401.31 L1725.10,399.82 L1725.34,398.33 L1725.58,396.84 L1725.82,395.35 L1726.06,393.86 L1726.31,392.37 L1726.55,390.88 L1726.80,389.39 L1727.06,387.90 L1727.32,386.41 L1727.58,384.93 L1727.84,383.45 L1728.12,381.96 L1728.39,380.48 L1728.68,379.00 L1728.97,377.53 L1729.27,376.05 L1729.57,374.58 L1729.88,373.11 L1730.20,371.64 L1730.53,370.18 L1730.87,368.71 L1731.22,367.25 L1731.58,365.80 L1731.95,364.34 L1732.33,362.89 L1732.73,361.44 L1733.13,360.00 L1733.55,358.56 L1733.98,357.12 L1734.42,355.69 L1734.88,354.26 L1735.35,352.84 L1735.83,351.42 L1736.34,350.00 L1736.85,348.59 L1737.39,347.18 L1737.94,345.78 L1738.50,344.38 L1739.09,342.99 L1739.69,341.61 L1740.31,340.22 L1740.95,338.85 L1741.61,337.48 L1742.28,336.11 L1742.98,334.75 L1743.70,333.40" fill="none" stroke="#f20000" stroke-width="2.7" stroke-linejoin="round" stroke-linecap="round" stroke-dasharray="12.3 17.2" stroke-dashoffset="0.00"/>
<line x1="395.7" y1="402.7" x2="448.9" y2="402.7" stroke="#0000f2" stroke-width="2.6" stroke-linecap="round" stroke-dasharray="14.6 11.2 1.0 11.2"/>
<line x1="394.4" y1="436.7" x2="458.3" y2="436.7" stroke="#000" stroke-width="2.8"/>
<line x1="395.7" y1="471.3" x2="457.8" y2="471.3" stroke="#f20000" stroke-width="2.6" stroke-linecap="round" stroke-dasharray="12.6 16.9"/>
<text transform="translate(463.0,408.5) scale(1.030,1)" font-family="'Liberation Serif','Times New Roman',serif" font-weight="bold" font-size="31.0"><tspan font-style="italic">h</tspan>=<tspan font-style="italic">λ</tspan><tspan font-size="25.0" font-weight="bold" dy="7.7">0</tspan><tspan dy="-7.7">/2</tspan></text>
<text transform="translate(466.5,447.3) scale(1.030,1)" font-family="'Liberation Serif','Times New Roman',serif" font-weight="bold" font-size="31.0"><tspan font-style="italic">h</tspan>=<tspan font-style="italic">λ</tspan><tspan font-size="19.0" font-weight="normal" dy="7.2">0</tspan><tspan dy="-7.2">/4</tspan></text>
<text transform="translate(466.1,486.6) scale(1.030,1)" font-family="'Liberation Serif','Times New Roman',serif" font-weight="bold" font-size="31.0"><tspan font-style="italic">h</tspan>=<tspan font-style="italic">λ</tspan><tspan font-size="19.0" font-weight="normal" dy="8.4">0</tspan><tspan dy="-8.4">/8</tspan></text>
<line x1="1318.7" y1="422.0" x2="1370.9" y2="422.0" stroke="#0000f2" stroke-width="2.6" stroke-linecap="round" stroke-dasharray="14.6 11.2 1.0 11.2"/>
<line x1="1317.4" y1="455.4" x2="1381.4" y2="455.4" stroke="#000" stroke-width="2.8"/>
<line x1="1318.7" y1="490.2" x2="1380.1" y2="490.2" stroke="#f20000" stroke-width="2.6" stroke-linecap="round" stroke-dasharray="12.6 16.9"/>
<text transform="translate(1389.7,429.3) scale(1.070,1)" font-family="'Liberation Serif','Times New Roman',serif" font-weight="bold" font-size="29.0"><tspan font-style="italic">h</tspan>=<tspan font-style="italic">λ</tspan><tspan font-size="21.0" font-weight="bold" dy="8.4">0</tspan><tspan dy="-8.4">/2</tspan></text>
<text transform="translate(1388.9,467.7) scale(1.070,1)" font-family="'Liberation Serif','Times New Roman',serif" font-weight="bold" font-size="29.0"><tspan font-style="italic">h</tspan>=<tspan font-style="italic">λ</tspan><tspan font-size="17.0" font-weight="bold" dy="7.3">0</tspan><tspan dy="-7.3">/4</tspan></text>
<text transform="translate(1388.9,506.8) scale(1.070,1)" font-family="'Liberation Serif','Times New Roman',serif" font-weight="bold" font-size="29.0"><tspan font-style="italic">h</tspan>=<tspan font-style="italic">λ</tspan><tspan font-size="18.0" font-weight="bold" dy="7.8">0</tspan><tspan dy="-7.8">/8</tspan></text>
</svg></body></html>
